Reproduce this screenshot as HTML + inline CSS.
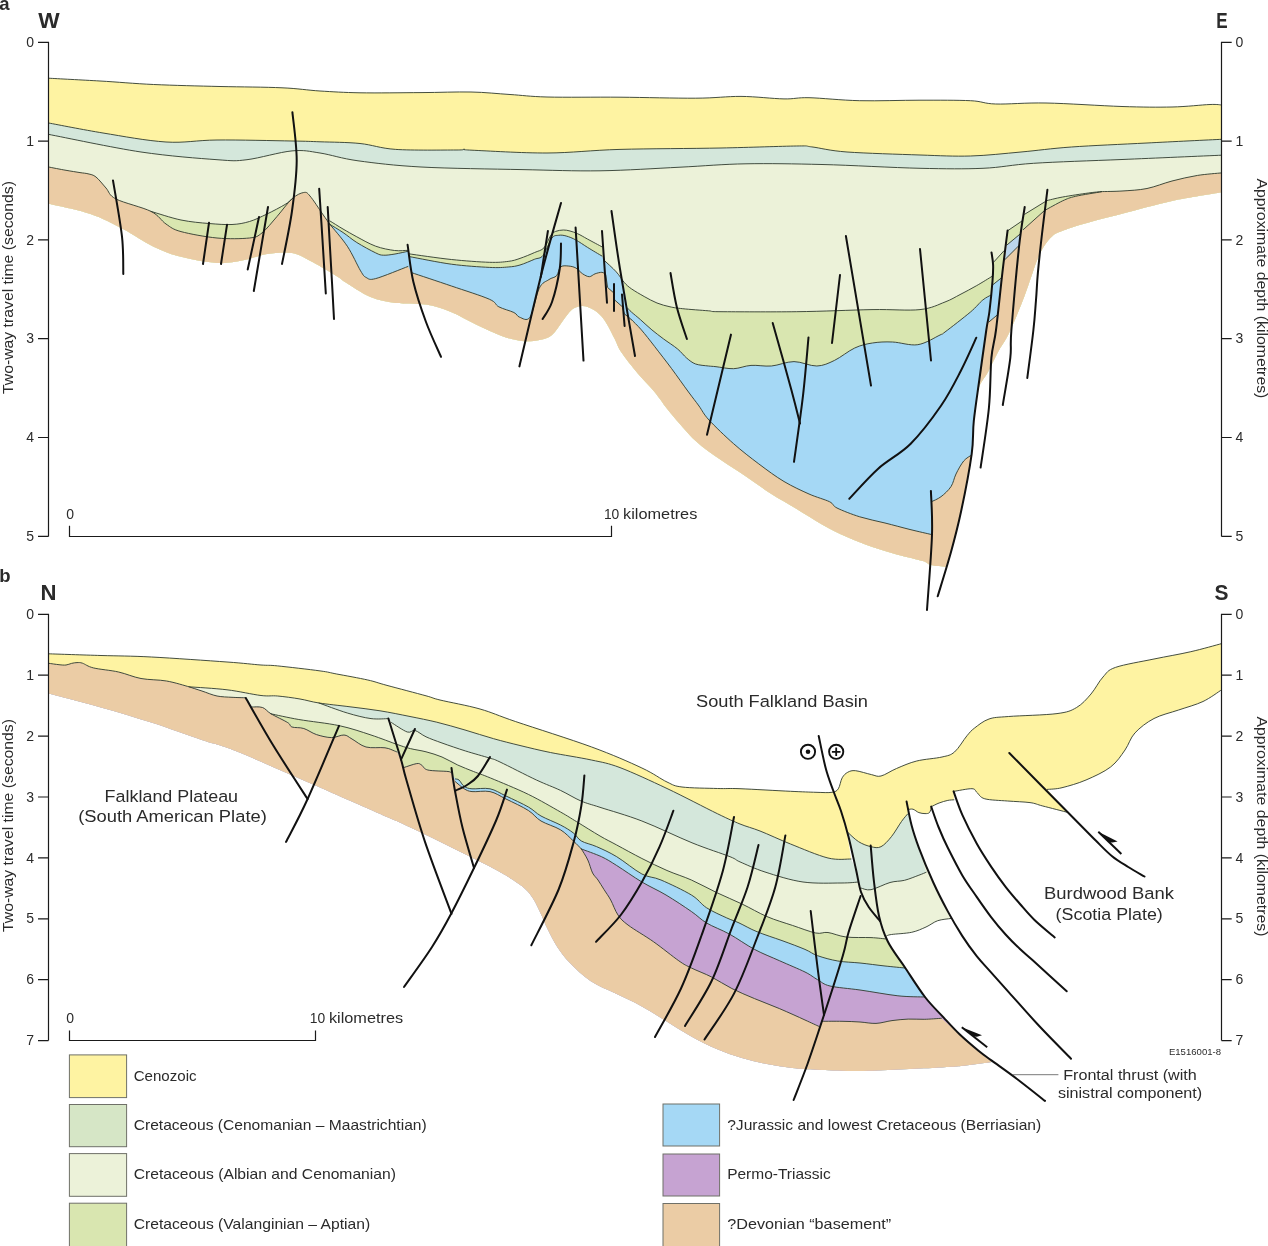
<!DOCTYPE html>
<html lang="en">
<head>
<meta charset="utf-8">
<title>Falkland Plateau seismic cross-sections</title>
<style>
html,body{margin:0;padding:0;background:#fff;}
body{width:1268px;height:1246px;overflow:hidden;}
svg{display:block;will-change:transform;}
</style>
</head>
<body>
<svg width="1268" height="1246" viewBox="0 0 1268 1246">
<rect width="1268" height="1246" fill="#fff"/>
<g id="panelA">
<path d="M48.7 78.2C57.2 78.7 82.5 80 100 81C117.5 82 133.6 83.6 153.6 84.5C173.6 85.4 198.6 86 220 86.5C241.4 87 265.3 87 282 87.8C298.7 88.5 307 90.2 320 91C333 91.8 343.2 92.5 360 92.8C376.8 93.1 402.5 92.7 421 92.6C439.5 92.5 456.2 91.7 471 92C485.8 92.3 497.3 93.7 510 94.5C522.7 95.3 528.7 96.5 547 97C565.3 97.5 595.2 97 620 97.2C644.8 97.4 675.5 98.3 695.7 98.2C715.9 98.1 726.3 96.3 741 96.4C755.7 96.5 772.7 98.7 784 98.9C795.3 99.1 796.4 97.4 809 97.7C821.6 98 841.2 100.3 859.7 100.7C878.2 101.1 901.5 100.2 920 100.2C938.5 100.2 957.9 100.1 970.5 100.7C983.1 101.3 983.1 103.6 995.7 104C1008.3 104.4 1025 102.6 1046 103C1067 103.4 1101 105.8 1122 106.5C1143 107.2 1157.3 107.3 1172 107C1186.7 106.7 1201.7 104.8 1210 104.5C1218.3 104.2 1219.7 104.9 1221.6 105L1221.6 192.3C1213.3 193.8 1188.6 197.4 1172 201C1155.4 204.6 1136.7 210 1122 213.8C1107.3 217.6 1094 220.9 1084 223.8C1074 226.7 1067.2 229 1062 231C1056.8 233 1055.6 233.3 1052.5 236C1049.4 238.7 1046 243.2 1043.5 247C1041 250.8 1039.3 254.7 1037.5 259C1035.7 263.3 1034.3 267.7 1032.6 272.7C1030.8 277.7 1028.9 283.6 1027 289C1025.1 294.4 1023.2 299.5 1021 305C1018.8 310.5 1016.4 316.5 1014 322C1011.6 327.5 1009.2 333 1006.5 338C1003.8 343 1001.1 346.3 998 352C994.9 357.7 991.3 365.8 988 372C984.7 378.2 980.7 381.2 978.3 389.4C975.9 397.6 974.9 410.1 973.8 421C972.7 431.9 972.6 446.7 971.7 455C970.9 463.3 970.5 461.5 968.7 471C966.9 480.5 964 498.3 961 511.8C958 525.3 953.5 542.8 951 552C948.5 561.2 946.8 564.3 946 566.8L946 566.8C943.5 566.5 934.8 566 930.9 565C927 564 928.3 562.7 922.8 561C917.2 559.3 906 557 897.6 554.7C889.2 552.4 880.8 550 872.4 547C864 544 855.4 540.8 847 537C838.6 533.2 830.4 529.1 822 524.4C813.6 519.7 805.1 514.1 796.7 509C788.3 503.9 779.9 499.4 771.4 494C762.9 488.6 754.4 482.2 746 476.5C737.6 470.8 729.4 465.9 721 460C712.6 454.1 704.1 448.8 695.7 441C687.3 433.2 677.3 421.1 670.5 413C663.7 404.9 660.2 398.8 654.8 392.2C649.4 385.6 643.6 380.4 638 373.7C632.4 367 624.9 357.7 621 351.8C617.1 345.9 617.2 343.7 614.4 338.3C611.6 332.9 607.6 324.4 604.2 319.7C600.8 315 597.6 312.3 594 310C590.4 307.7 586.2 306 582.5 305.9C578.8 305.8 575.4 306.9 572 309.6C568.6 312.3 565.3 317.8 562 322C558.7 326.2 555.7 332 552 335C548.3 338 544.6 339 539.6 340C534.6 341 528.3 341.7 522 341C515.7 340.3 509.3 338.7 501.7 336C494.1 333.3 484.9 328.8 476.5 324.8C468.1 320.8 459.4 315.4 451 312C442.6 308.6 435.2 306.1 426 304.6C416.8 303.1 404.9 304.3 395.7 303C386.4 301.7 378.9 300.5 370.5 297C362.1 293.5 350.4 285.3 345 282C339.6 278.7 343.4 280.3 338 277C332.6 273.7 320.2 266 312.5 262C304.8 258 299.6 254.3 292 253C284.4 251.7 275.3 252.7 267 254C258.7 255.3 250.3 259.1 242 260.6C233.7 262.1 227.2 263.6 217 263C206.8 262.4 191.6 259.5 181 256.8C170.4 254.1 163.3 251.3 153.6 246.7C143.9 242.1 133.5 234.4 123 229C112.5 223.6 102.9 218.2 90.5 214C78.1 209.8 55.7 205.5 48.7 203.8Z" fill="#FEF3A2"/>
<path d="M48.7 123C57.8 124.7 83.5 129.8 103 133C122.5 136.2 147 140.8 166 142C185 143.2 196 140.2 217 140C238 139.8 274.8 140.7 292 141C309.2 141.3 308.7 141.4 320 141.8C331.3 142.2 347.4 142.2 360 143.5C372.6 144.8 379.7 148.3 395.7 149.4C411.7 150.5 444.6 150 456 150C467.4 150 461.3 149.3 464 149.3C466.7 149.3 458.2 149.6 472 150.2C485.8 150.8 522.3 153.1 547 153C571.7 152.9 591 150.2 620 149.4C649 148.6 691.5 148.6 721 148C750.5 147.4 781.6 146.2 796.7 146C811.8 145.8 803.4 145.9 811.8 146.9C820.2 147.9 829 150.7 847 152C865 153.3 899.4 154.3 920 155C940.6 155.7 953.7 156.5 970.5 156C987.3 155.5 1004.2 153.5 1021 152C1037.8 150.5 1050.4 148.5 1071.4 147C1092.4 145.5 1122 144.3 1147 143C1172 141.7 1209.2 139.9 1221.6 139.3L1221.6 192.3C1213.3 193.8 1188.6 197.4 1172 201C1155.4 204.6 1136.7 210 1122 213.8C1107.3 217.6 1094 220.9 1084 223.8C1074 226.7 1067.2 229 1062 231C1056.8 233 1055.6 233.3 1052.5 236C1049.4 238.7 1046 243.2 1043.5 247C1041 250.8 1039.3 254.7 1037.5 259C1035.7 263.3 1034.3 267.7 1032.6 272.7C1030.8 277.7 1028.9 283.6 1027 289C1025.1 294.4 1023.2 299.5 1021 305C1018.8 310.5 1016.4 316.5 1014 322C1011.6 327.5 1009.2 333 1006.5 338C1003.8 343 1001.1 346.3 998 352C994.9 357.7 991.3 365.8 988 372C984.7 378.2 980.7 381.2 978.3 389.4C975.9 397.6 974.9 410.1 973.8 421C972.7 431.9 972.6 446.7 971.7 455C970.9 463.3 970.5 461.5 968.7 471C966.9 480.5 964 498.3 961 511.8C958 525.3 953.5 542.8 951 552C948.5 561.2 946.8 564.3 946 566.8L946 566.8C943.5 566.5 934.8 566 930.9 565C927 564 928.3 562.7 922.8 561C917.2 559.3 906 557 897.6 554.7C889.2 552.4 880.8 550 872.4 547C864 544 855.4 540.8 847 537C838.6 533.2 830.4 529.1 822 524.4C813.6 519.7 805.1 514.1 796.7 509C788.3 503.9 779.9 499.4 771.4 494C762.9 488.6 754.4 482.2 746 476.5C737.6 470.8 729.4 465.9 721 460C712.6 454.1 704.1 448.8 695.7 441C687.3 433.2 677.3 421.1 670.5 413C663.7 404.9 660.2 398.8 654.8 392.2C649.4 385.6 643.6 380.4 638 373.7C632.4 367 624.9 357.7 621 351.8C617.1 345.9 617.2 343.7 614.4 338.3C611.6 332.9 607.6 324.4 604.2 319.7C600.8 315 597.6 312.3 594 310C590.4 307.7 586.2 306 582.5 305.9C578.8 305.8 575.4 306.9 572 309.6C568.6 312.3 565.3 317.8 562 322C558.7 326.2 555.7 332 552 335C548.3 338 544.6 339 539.6 340C534.6 341 528.3 341.7 522 341C515.7 340.3 509.3 338.7 501.7 336C494.1 333.3 484.9 328.8 476.5 324.8C468.1 320.8 459.4 315.4 451 312C442.6 308.6 435.2 306.1 426 304.6C416.8 303.1 404.9 304.3 395.7 303C386.4 301.7 378.9 300.5 370.5 297C362.1 293.5 350.4 285.3 345 282C339.6 278.7 343.4 280.3 338 277C332.6 273.7 320.2 266 312.5 262C304.8 258 299.6 254.3 292 253C284.4 251.7 275.3 252.7 267 254C258.7 255.3 250.3 259.1 242 260.6C233.7 262.1 227.2 263.6 217 263C206.8 262.4 191.6 259.5 181 256.8C170.4 254.1 163.3 251.3 153.6 246.7C143.9 242.1 133.5 234.4 123 229C112.5 223.6 102.9 218.2 90.5 214C78.1 209.8 55.7 205.5 48.7 203.8Z" fill="#D4E7DB"/>
<path d="M48.7 134.4C64.1 137.3 113 147.8 141 152C169.1 156.2 199.3 158.4 217 159.7C234.7 161 234.5 161.2 247 159.7C259.5 158.2 279.8 152 292 150.9C304.2 149.8 309 151.3 320 153C331 154.7 341.2 158.5 358 160.8C374.8 163.1 393.7 165.5 421 167C448.3 168.5 492.2 169 522 169.6C551.8 170.2 573.7 171.2 600 170.8C626.3 170.4 655.7 168.4 680 167.2C704.3 166 722.3 164.2 746 163.8C769.7 163.4 793 163.8 822 164.5C851 165.2 893.2 167.7 920 168.3C946.8 168.9 964.1 169.1 983 168.3C1001.9 167.5 1010.4 164.8 1033.6 163.3C1056.8 161.8 1090.7 160.8 1122 159.5C1153.3 158.2 1205 155.9 1221.6 155.2L1221.6 192.3C1213.3 193.8 1188.6 197.4 1172 201C1155.4 204.6 1136.7 210 1122 213.8C1107.3 217.6 1094 220.9 1084 223.8C1074 226.7 1067.2 229 1062 231C1056.8 233 1055.6 233.3 1052.5 236C1049.4 238.7 1046 243.2 1043.5 247C1041 250.8 1039.3 254.7 1037.5 259C1035.7 263.3 1034.3 267.7 1032.6 272.7C1030.8 277.7 1028.9 283.6 1027 289C1025.1 294.4 1023.2 299.5 1021 305C1018.8 310.5 1016.4 316.5 1014 322C1011.6 327.5 1009.2 333 1006.5 338C1003.8 343 1001.1 346.3 998 352C994.9 357.7 991.3 365.8 988 372C984.7 378.2 980.7 381.2 978.3 389.4C975.9 397.6 974.9 410.1 973.8 421C972.7 431.9 972.6 446.7 971.7 455C970.9 463.3 970.5 461.5 968.7 471C966.9 480.5 964 498.3 961 511.8C958 525.3 953.5 542.8 951 552C948.5 561.2 946.8 564.3 946 566.8L946 566.8C943.5 566.5 934.8 566 930.9 565C927 564 928.3 562.7 922.8 561C917.2 559.3 906 557 897.6 554.7C889.2 552.4 880.8 550 872.4 547C864 544 855.4 540.8 847 537C838.6 533.2 830.4 529.1 822 524.4C813.6 519.7 805.1 514.1 796.7 509C788.3 503.9 779.9 499.4 771.4 494C762.9 488.6 754.4 482.2 746 476.5C737.6 470.8 729.4 465.9 721 460C712.6 454.1 704.1 448.8 695.7 441C687.3 433.2 677.3 421.1 670.5 413C663.7 404.9 660.2 398.8 654.8 392.2C649.4 385.6 643.6 380.4 638 373.7C632.4 367 624.9 357.7 621 351.8C617.1 345.9 617.2 343.7 614.4 338.3C611.6 332.9 607.6 324.4 604.2 319.7C600.8 315 597.6 312.3 594 310C590.4 307.7 586.2 306 582.5 305.9C578.8 305.8 575.4 306.9 572 309.6C568.6 312.3 565.3 317.8 562 322C558.7 326.2 555.7 332 552 335C548.3 338 544.6 339 539.6 340C534.6 341 528.3 341.7 522 341C515.7 340.3 509.3 338.7 501.7 336C494.1 333.3 484.9 328.8 476.5 324.8C468.1 320.8 459.4 315.4 451 312C442.6 308.6 435.2 306.1 426 304.6C416.8 303.1 404.9 304.3 395.7 303C386.4 301.7 378.9 300.5 370.5 297C362.1 293.5 350.4 285.3 345 282C339.6 278.7 343.4 280.3 338 277C332.6 273.7 320.2 266 312.5 262C304.8 258 299.6 254.3 292 253C284.4 251.7 275.3 252.7 267 254C258.7 255.3 250.3 259.1 242 260.6C233.7 262.1 227.2 263.6 217 263C206.8 262.4 191.6 259.5 181 256.8C170.4 254.1 163.3 251.3 153.6 246.7C143.9 242.1 133.5 234.4 123 229C112.5 223.6 102.9 218.2 90.5 214C78.1 209.8 55.7 205.5 48.7 203.8Z" fill="#ECF2D9"/>
<path d="M48.7 167C51.6 167.6 60.8 169.4 66 170.3C71.2 171.2 76.3 172 80 172.6C83.7 173.2 85.3 173.1 88 173.8C90.7 174.5 93 174.6 96 177C99 179.4 102.7 184.3 106 188C109.3 191.7 108.5 195.1 116 199C123.5 202.9 145.2 209.3 151 211.4L151 211.4C156 212.8 171.3 218 181 220C190.7 222 200.5 222.8 209 223.5C217.5 224.2 225.2 224.8 232 224.5C238.8 224.2 243.7 223.2 249.5 221.5C255.3 219.8 261.1 216.8 267 214C272.9 211.2 280.8 207 285 204.5C289.2 202 290.8 199.8 292 198.8L292 198.8C293.9 197.8 300.7 193 303.7 192.5C306.7 192 306.9 192.4 310 196C313.1 199.6 319.3 209.2 322.6 214C325.9 218.8 328.8 222.8 330 224.5L330 221C332.2 222.3 338.5 226.4 343 229C347.5 231.6 351.4 233.9 356.8 236.8C362.2 239.7 369.4 243.9 375.7 246.2C382 248.5 389.2 249.8 394.6 250.5C400 251.2 405.7 250.3 407.9 250.3L408.8 253.8C415.9 254.8 438 258.1 451.4 259.5C464.8 260.9 479.8 262 489.3 262.3C498.8 262.6 503.1 262 508.2 261.4C513.3 260.8 515.6 259.9 520 258.4C524.4 256.9 530.4 254.4 534.4 252.6C538.4 250.8 541.3 250.7 544 247.8C546.7 244.9 548.9 238 550.8 235.3C552.7 232.6 553.5 232.3 555.6 231.4C557.7 230.5 560.9 230.1 563.3 230C565.7 229.9 567.6 230.4 570 231C572.4 231.6 574.9 232.5 577.8 233.8C580.7 235.1 583.4 236.8 587.4 239C591.4 241.2 599.5 245.5 601.9 246.8L603.8 260C605.9 262 612.9 268.1 616.3 271.9C619.7 275.6 621.8 279.7 624.3 282.5C626.8 285.3 628.1 286.5 631.4 288.8C634.7 291.1 639.9 294.1 644.2 296.5C648.5 298.9 652.7 301.3 657 303C661.3 304.7 665.7 305.9 670 306.8C674.3 307.8 676.3 308 682.7 308.7C689.1 309.4 702 310.3 708.4 310.8C714.8 311.3 706.3 311.6 721 311.7C735.7 311.8 771.5 312 796.7 311.7C821.9 311.4 851.5 310 872 309.6C892.5 309.2 907.8 310.9 920 309.6C932.2 308.3 938.3 304.5 945 302C951.7 299.5 954.7 297.3 960 294.6C965.3 291.9 971.4 288.6 976.7 285.6C982 282.6 989.3 278 991.8 276.5L991.8 276.5L993.4 262.4L1004 250.8L1007.9 230.6L1022 221L1024.6 214.3L1045.4 201.5L1046 200.8L1062.7 197L1088.4 193L1101.3 191.6L1101.3 191.6C1104.8 191.5 1114.4 191.5 1122 191C1129.6 190.5 1138.7 190.2 1147 188.5C1155.3 186.8 1163.6 183.2 1172 181C1180.4 178.8 1189.3 176.8 1197.6 175.4C1205.9 174.1 1217.6 173.3 1221.6 172.9L1221.6 192.3C1213.3 193.8 1188.6 197.4 1172 201C1155.4 204.6 1136.7 210 1122 213.8C1107.3 217.6 1094 220.9 1084 223.8C1074 226.7 1067.2 229 1062 231C1056.8 233 1055.6 233.3 1052.5 236C1049.4 238.7 1046 243.2 1043.5 247C1041 250.8 1039.3 254.7 1037.5 259C1035.7 263.3 1034.3 267.7 1032.6 272.7C1030.8 277.7 1028.9 283.6 1027 289C1025.1 294.4 1023.2 299.5 1021 305C1018.8 310.5 1016.4 316.5 1014 322C1011.6 327.5 1009.2 333 1006.5 338C1003.8 343 1001.1 346.3 998 352C994.9 357.7 991.3 365.8 988 372C984.7 378.2 980.7 381.2 978.3 389.4C975.9 397.6 974.9 410.1 973.8 421C972.7 431.9 972.6 446.7 971.7 455C970.9 463.3 970.5 461.5 968.7 471C966.9 480.5 964 498.3 961 511.8C958 525.3 953.5 542.8 951 552C948.5 561.2 946.8 564.3 946 566.8L946 566.8C943.5 566.5 934.8 566 930.9 565C927 564 928.3 562.7 922.8 561C917.2 559.3 906 557 897.6 554.7C889.2 552.4 880.8 550 872.4 547C864 544 855.4 540.8 847 537C838.6 533.2 830.4 529.1 822 524.4C813.6 519.7 805.1 514.1 796.7 509C788.3 503.9 779.9 499.4 771.4 494C762.9 488.6 754.4 482.2 746 476.5C737.6 470.8 729.4 465.9 721 460C712.6 454.1 704.1 448.8 695.7 441C687.3 433.2 677.3 421.1 670.5 413C663.7 404.9 660.2 398.8 654.8 392.2C649.4 385.6 643.6 380.4 638 373.7C632.4 367 624.9 357.7 621 351.8C617.1 345.9 617.2 343.7 614.4 338.3C611.6 332.9 607.6 324.4 604.2 319.7C600.8 315 597.6 312.3 594 310C590.4 307.7 586.2 306 582.5 305.9C578.8 305.8 575.4 306.9 572 309.6C568.6 312.3 565.3 317.8 562 322C558.7 326.2 555.7 332 552 335C548.3 338 544.6 339 539.6 340C534.6 341 528.3 341.7 522 341C515.7 340.3 509.3 338.7 501.7 336C494.1 333.3 484.9 328.8 476.5 324.8C468.1 320.8 459.4 315.4 451 312C442.6 308.6 435.2 306.1 426 304.6C416.8 303.1 404.9 304.3 395.7 303C386.4 301.7 378.9 300.5 370.5 297C362.1 293.5 350.4 285.3 345 282C339.6 278.7 343.4 280.3 338 277C332.6 273.7 320.2 266 312.5 262C304.8 258 299.6 254.3 292 253C284.4 251.7 275.3 252.7 267 254C258.7 255.3 250.3 259.1 242 260.6C233.7 262.1 227.2 263.6 217 263C206.8 262.4 191.6 259.5 181 256.8C170.4 254.1 163.3 251.3 153.6 246.7C143.9 242.1 133.5 234.4 123 229C112.5 223.6 102.9 218.2 90.5 214C78.1 209.8 55.7 205.5 48.7 203.8Z" fill="#D9E6B0"/>
<path d="M48.7 167C51.6 167.6 60.8 169.4 66 170.3C71.2 171.2 76.3 172 80 172.6C83.7 173.2 85.3 173.1 88 173.8C90.7 174.5 93 174.6 96 177C99 179.4 102.7 184.3 106 188C109.3 191.7 108.5 195.1 116 199C123.5 202.9 142.7 207.2 151 211.4C159.3 215.6 161 220.6 166 224C171 227.4 172.5 229.3 181 231.6C189.5 233.9 205.6 236.9 217 238C228.4 239.1 242 238.8 249.5 238C257 237.2 257.4 236.5 262 232.9C266.6 229.3 272 222.2 277 216.5C282 210.8 287.6 202.8 292 198.8C296.4 194.8 300.7 193 303.7 192.5C306.7 192 306.9 192.4 310 196C313.1 199.6 319.3 209.2 322.6 214C325.9 218.8 328.8 222.8 330 224.5L330 224.5C332.2 225.8 338.5 229.5 343 232.5C347.5 235.5 351.4 239.1 356.8 242.5C362.2 245.9 371.3 250.8 375.7 252.9C380.1 255 380.1 255 383.3 255.2C386.5 255.4 390.9 254.7 395 254C399.1 253.3 405.8 251.8 407.9 251.3L409.8 256.7C416.7 257.9 438.1 262.4 451.4 264.2C464.6 266 479.8 266.9 489.3 267.4C498.8 267.9 503.1 267.4 508.2 267C513.3 266.6 515.6 266.3 520 265C524.4 263.7 530.6 260.9 534.4 259.3C538.2 257.7 540.1 259 543 255.5C545.9 252 549.2 241.6 551.8 238.2C554.4 234.8 556.1 235.7 558.5 235.3C560.9 234.9 563.3 235.2 566.2 236C569.1 236.8 572.4 238.1 575.9 240C579.4 241.9 583.1 244.6 587.4 247.3C591.7 250 599.5 254.6 601.9 256L603.8 260C605.9 262 613 268.1 616.3 271.9C619.6 275.6 622.3 280.7 623.5 282.5L627.5 308C628.1 308.7 629.2 310.1 631.4 312C633.5 313.9 637 316.6 640.4 319.6C643.8 322.6 648 326.7 651.9 329.9C655.8 333.1 659.2 335.7 663.5 338.9C667.8 342.1 673.8 345.8 677.6 349C681.5 352.2 683.6 355.5 686.6 358C689.6 360.5 692 362.7 695.6 364C699.2 365.3 705 365.6 708.4 366C711.8 366.4 711.8 366.2 716 366.7C720.2 367.1 727.8 368.9 733.6 368.7C739.4 368.5 744.7 365.8 751 365.4C757.3 364.9 764.2 366.6 771.4 366C778.6 365.4 786.4 361.6 794 361.6C801.6 361.6 810 366.2 816.8 366C823.5 365.8 828.2 363.4 834.5 360.4C840.8 357.4 848.4 350.9 854.7 348C861 345.1 866.1 344 872.4 343C878.7 342 884.9 341.7 892.5 342C900.1 342.3 909.9 345.9 917.8 344.7C925.7 343.5 935.5 337.1 940 335C944.5 332.9 939.9 335.8 945 332C950.1 328.2 964.2 317.3 970.5 312C976.8 306.7 979.3 302.8 982.8 300C986.2 297.2 989.8 295.8 991.2 295L991.2 295L992.8 284.8L1000.8 278.4L1006.9 245L1020.4 233.8L1023.3 229.6L1044 211L1044.8 210.4L1062.7 200.8L1075.6 196.3L1101.3 191.8L1101.3 191.6C1104.8 191.5 1114.4 191.5 1122 191C1129.6 190.5 1138.7 190.2 1147 188.5C1155.3 186.8 1163.6 183.2 1172 181C1180.4 178.8 1189.3 176.8 1197.6 175.4C1205.9 174.1 1217.6 173.3 1221.6 172.9L1221.6 192.3C1213.3 193.8 1188.6 197.4 1172 201C1155.4 204.6 1136.7 210 1122 213.8C1107.3 217.6 1094 220.9 1084 223.8C1074 226.7 1067.2 229 1062 231C1056.8 233 1055.6 233.3 1052.5 236C1049.4 238.7 1046 243.2 1043.5 247C1041 250.8 1039.3 254.7 1037.5 259C1035.7 263.3 1034.3 267.7 1032.6 272.7C1030.8 277.7 1028.9 283.6 1027 289C1025.1 294.4 1023.2 299.5 1021 305C1018.8 310.5 1016.4 316.5 1014 322C1011.6 327.5 1009.2 333 1006.5 338C1003.8 343 1001.1 346.3 998 352C994.9 357.7 991.3 365.8 988 372C984.7 378.2 980.7 381.2 978.3 389.4C975.9 397.6 974.9 410.1 973.8 421C972.7 431.9 972.6 446.7 971.7 455C970.9 463.3 970.5 461.5 968.7 471C966.9 480.5 964 498.3 961 511.8C958 525.3 953.5 542.8 951 552C948.5 561.2 946.8 564.3 946 566.8L946 566.8C943.5 566.5 934.8 566 930.9 565C927 564 928.3 562.7 922.8 561C917.2 559.3 906 557 897.6 554.7C889.2 552.4 880.8 550 872.4 547C864 544 855.4 540.8 847 537C838.6 533.2 830.4 529.1 822 524.4C813.6 519.7 805.1 514.1 796.7 509C788.3 503.9 779.9 499.4 771.4 494C762.9 488.6 754.4 482.2 746 476.5C737.6 470.8 729.4 465.9 721 460C712.6 454.1 704.1 448.8 695.7 441C687.3 433.2 677.3 421.1 670.5 413C663.7 404.9 660.2 398.8 654.8 392.2C649.4 385.6 643.6 380.4 638 373.7C632.4 367 624.9 357.7 621 351.8C617.1 345.9 617.2 343.7 614.4 338.3C611.6 332.9 607.6 324.4 604.2 319.7C600.8 315 597.6 312.3 594 310C590.4 307.7 586.2 306 582.5 305.9C578.8 305.8 575.4 306.9 572 309.6C568.6 312.3 565.3 317.8 562 322C558.7 326.2 555.7 332 552 335C548.3 338 544.6 339 539.6 340C534.6 341 528.3 341.7 522 341C515.7 340.3 509.3 338.7 501.7 336C494.1 333.3 484.9 328.8 476.5 324.8C468.1 320.8 459.4 315.4 451 312C442.6 308.6 435.2 306.1 426 304.6C416.8 303.1 404.9 304.3 395.7 303C386.4 301.7 378.9 300.5 370.5 297C362.1 293.5 350.4 285.3 345 282C339.6 278.7 343.4 280.3 338 277C332.6 273.7 320.2 266 312.5 262C304.8 258 299.6 254.3 292 253C284.4 251.7 275.3 252.7 267 254C258.7 255.3 250.3 259.1 242 260.6C233.7 262.1 227.2 263.6 217 263C206.8 262.4 191.6 259.5 181 256.8C170.4 254.1 163.3 251.3 153.6 246.7C143.9 242.1 133.5 234.4 123 229C112.5 223.6 102.9 218.2 90.5 214C78.1 209.8 55.7 205.5 48.7 203.8Z" fill="#EBCCA5"/>
<path d="M330 224.5C332.2 225.8 338.5 229.5 343 232.5C347.5 235.5 351.4 239.1 356.8 242.5C362.2 245.9 371.3 250.8 375.7 252.9C380.1 255 380.1 255 383.3 255.2C386.5 255.4 390.9 254.7 395 254C399.1 253.3 405.8 251.8 407.9 251.3L409.8 256.7C416.7 257.9 438.1 262.4 451.4 264.2C464.6 266 479.8 266.9 489.3 267.4C498.8 267.9 503.1 267.4 508.2 267C513.3 266.6 515.6 266.3 520 265C524.4 263.7 530.6 260.9 534.4 259.3C538.2 257.7 540.1 259 543 255.5C545.9 252 549.2 241.6 551.8 238.2C554.4 234.8 556.1 235.7 558.5 235.3C560.9 234.9 563.3 235.2 566.2 236C569.1 236.8 572.4 238.1 575.9 240C579.4 241.9 583.1 244.6 587.4 247.3C591.7 250 599.5 254.6 601.9 256L603.8 260C605.9 262 613 268.1 616.3 271.9C619.6 275.6 622.3 280.7 623.5 282.5L627.5 308C628.1 308.7 629.2 310.1 631.4 312C633.5 313.9 637 316.6 640.4 319.6C643.8 322.6 648 326.7 651.9 329.9C655.8 333.1 659.2 335.7 663.5 338.9C667.8 342.1 673.8 345.8 677.6 349C681.5 352.2 683.6 355.5 686.6 358C689.6 360.5 692 362.7 695.6 364C699.2 365.3 705 365.6 708.4 366C711.8 366.4 711.8 366.2 716 366.7C720.2 367.1 727.8 368.9 733.6 368.7C739.4 368.5 744.7 365.8 751 365.4C757.3 364.9 764.2 366.6 771.4 366C778.6 365.4 786.4 361.6 794 361.6C801.6 361.6 810 366.2 816.8 366C823.5 365.8 828.2 363.4 834.5 360.4C840.8 357.4 848.4 350.9 854.7 348C861 345.1 866.1 344 872.4 343C878.7 342 884.9 341.7 892.5 342C900.1 342.3 909.9 345.9 917.8 344.7C925.7 343.5 935.5 337.1 940 335C944.5 332.9 939.9 335.8 945 332C950.1 328.2 964.2 317.3 970.5 312C976.8 306.7 979.3 302.8 982.8 300C986.2 297.2 989.8 295.8 991.2 295L991.2 295C990.9 297.7 990.3 305.2 989.5 311C988.7 316.8 988 318.5 986.3 330C984.6 341.5 981.4 364.8 979.3 380C977.2 395.2 975.1 408.5 973.8 421C972.5 433.5 972.1 449.3 971.7 455L971.7 455C970.4 456 966.3 457.8 963.7 461C961.1 464.2 958.1 469.7 956 474C953.9 478.3 953.5 482.8 951 486.6C948.5 490.4 944.3 494.2 941 496.7C937.7 499.2 933 500.9 931.4 501.7L931.4 534.5L931.4 534.5C927.8 533.7 917.7 531.4 910 529.5C902.3 527.6 893.4 525.1 885 523C876.6 520.9 867.7 519.3 859.7 516.8C851.7 514.3 842 510.5 837 508C832 505.5 834.2 504 829.5 501.7C824.8 499.4 816.6 497.4 809 494C801.4 490.6 792.4 486.5 784 481.5C775.6 476.5 767.2 470.2 758.8 463.9C750.4 457.6 741.9 451 733.6 443.7C725.3 436.4 714.8 426.3 709 420C703.2 413.7 702.4 410.7 699 406C695.6 401.3 693.1 398.2 688.5 392C683.9 385.8 677.2 376.2 671.6 368.6C666 361.1 659.8 353.2 654.8 346.7C649.8 340.2 645.2 334.3 641.3 329.8C637.4 325.3 633 321.3 631.4 319.6L631.4 319.6L624.3 313.8L622.4 306.8L614.7 300L613.4 292.6L607.6 287.5L605.7 274.7L605.7 274.7C605.1 274.3 603.7 272.4 601.9 272.3C600.1 272.2 597.2 273.1 595.1 273.8C593 274.5 591.4 276.7 589.3 276.7C587.2 276.7 584.8 275.2 582.6 273.8C580.4 272.4 578.3 269.3 575.9 268C573.5 266.7 570.8 266.2 568.2 266C565.6 265.8 562.4 265.4 560.5 267C558.6 268.6 558.5 273.6 556.6 275.7C554.7 277.8 551.8 277.5 548.9 279.6C546 281.7 542.4 281.9 539.3 288.2C536.1 294.5 533.3 312.4 530 317.2C526.7 322 522.3 318 519.6 317.2C516.9 316.4 517.4 314.2 513.9 312.5C510.4 310.8 502.9 309 498.8 306.8C494.7 304.6 497.2 302.7 489.3 299.2C481.4 295.7 464.3 290.4 451.4 286C438.5 281.6 418.3 274.9 411.7 272.7L407.9 266.5C402.5 268.5 382.6 276.8 375.7 278.6C368.8 280.4 368.7 278.8 366.2 277.5C363.7 276.2 363.8 276.1 360.6 270.9C357.5 265.7 352.4 253.9 347.3 246.2C342.2 238.5 332.9 228.1 330 224.5Z" fill="#A5D8F5"/>
<path d="M992.8 284.8L1000.8 278.4L997.2 315L988.9 322Z" fill="#A5D8F5"/>
<path d="M1006.9 245L1020.4 233.8L1018.8 245.7L1004.7 259.8Z" fill="#BCD6EC"/>
<path d="M48.7 78.2C57.2 78.7 82.5 80 100 81C117.5 82 133.6 83.6 153.6 84.5C173.6 85.4 198.6 86 220 86.5C241.4 87 265.3 87 282 87.8C298.7 88.5 307 90.2 320 91C333 91.8 343.2 92.5 360 92.8C376.8 93.1 402.5 92.7 421 92.6C439.5 92.5 456.2 91.7 471 92C485.8 92.3 497.3 93.7 510 94.5C522.7 95.3 528.7 96.5 547 97C565.3 97.5 595.2 97 620 97.2C644.8 97.4 675.5 98.3 695.7 98.2C715.9 98.1 726.3 96.3 741 96.4C755.7 96.5 772.7 98.7 784 98.9C795.3 99.1 796.4 97.4 809 97.7C821.6 98 841.2 100.3 859.7 100.7C878.2 101.1 901.5 100.2 920 100.2C938.5 100.2 957.9 100.1 970.5 100.7C983.1 101.3 983.1 103.6 995.7 104C1008.3 104.4 1025 102.6 1046 103C1067 103.4 1101 105.8 1122 106.5C1143 107.2 1157.3 107.3 1172 107C1186.7 106.7 1201.7 104.8 1210 104.5C1218.3 104.2 1219.7 104.9 1221.6 105" fill="none" stroke="#2f3a2e" stroke-width="0.9" stroke-linecap="round" stroke-linejoin="round"/>
<path d="M48.7 123C57.8 124.7 83.5 129.8 103 133C122.5 136.2 147 140.8 166 142C185 143.2 196 140.2 217 140C238 139.8 274.8 140.7 292 141C309.2 141.3 308.7 141.4 320 141.8C331.3 142.2 347.4 142.2 360 143.5C372.6 144.8 379.7 148.3 395.7 149.4C411.7 150.5 444.6 150 456 150C467.4 150 461.3 149.3 464 149.3C466.7 149.3 458.2 149.6 472 150.2C485.8 150.8 522.3 153.1 547 153C571.7 152.9 591 150.2 620 149.4C649 148.6 691.5 148.6 721 148C750.5 147.4 781.6 146.2 796.7 146C811.8 145.8 803.4 145.9 811.8 146.9C820.2 147.9 829 150.7 847 152C865 153.3 899.4 154.3 920 155C940.6 155.7 953.7 156.5 970.5 156C987.3 155.5 1004.2 153.5 1021 152C1037.8 150.5 1050.4 148.5 1071.4 147C1092.4 145.5 1122 144.3 1147 143C1172 141.7 1209.2 139.9 1221.6 139.3" fill="none" stroke="#2f3a2e" stroke-width="0.9" stroke-linecap="round" stroke-linejoin="round"/>
<path d="M48.7 134.4C64.1 137.3 113 147.8 141 152C169.1 156.2 199.3 158.4 217 159.7C234.7 161 234.5 161.2 247 159.7C259.5 158.2 279.8 152 292 150.9C304.2 149.8 309 151.3 320 153C331 154.7 341.2 158.5 358 160.8C374.8 163.1 393.7 165.5 421 167C448.3 168.5 492.2 169 522 169.6C551.8 170.2 573.7 171.2 600 170.8C626.3 170.4 655.7 168.4 680 167.2C704.3 166 722.3 164.2 746 163.8C769.7 163.4 793 163.8 822 164.5C851 165.2 893.2 167.7 920 168.3C946.8 168.9 964.1 169.1 983 168.3C1001.9 167.5 1010.4 164.8 1033.6 163.3C1056.8 161.8 1090.7 160.8 1122 159.5C1153.3 158.2 1205 155.9 1221.6 155.2" fill="none" stroke="#2f3a2e" stroke-width="0.9" stroke-linecap="round" stroke-linejoin="round"/>
<path d="M48.7 167C51.6 167.6 60.8 169.4 66 170.3C71.2 171.2 76.3 172 80 172.6C83.7 173.2 85.3 173.1 88 173.8C90.7 174.5 93 174.6 96 177C99 179.4 102.7 184.3 106 188C109.3 191.7 108.5 195.1 116 199C123.5 202.9 142.7 207.2 151 211.4C159.3 215.6 161 220.6 166 224C171 227.4 172.5 229.3 181 231.6C189.5 233.9 205.6 236.9 217 238C228.4 239.1 242 238.8 249.5 238C257 237.2 257.4 236.5 262 232.9C266.6 229.3 272 222.2 277 216.5C282 210.8 287.6 202.8 292 198.8C296.4 194.8 300.7 193 303.7 192.5C306.7 192 306.9 192.4 310 196C313.1 199.6 319.3 209.2 322.6 214C325.9 218.8 328.8 222.8 330 224.5" fill="none" stroke="#2f3a2e" stroke-width="0.9" stroke-linecap="round" stroke-linejoin="round"/>
<path d="M151 211.4C156 212.8 171.3 218 181 220C190.7 222 200.5 222.8 209 223.5C217.5 224.2 225.2 224.8 232 224.5C238.8 224.2 243.7 223.2 249.5 221.5C255.3 219.8 261.1 216.8 267 214C272.9 211.2 280.8 207 285 204.5C289.2 202 290.8 199.8 292 198.8" fill="none" stroke="#2f3a2e" stroke-width="0.9" stroke-linecap="round" stroke-linejoin="round"/>
<path d="M330 221C332.2 222.3 338.5 226.4 343 229C347.5 231.6 351.4 233.9 356.8 236.8C362.2 239.7 369.4 243.9 375.7 246.2C382 248.5 389.2 249.8 394.6 250.5C400 251.2 405.7 250.3 407.9 250.3" fill="none" stroke="#2f3a2e" stroke-width="0.9" stroke-linecap="round" stroke-linejoin="round"/>
<path d="M408.8 253.8C415.9 254.8 438 258.1 451.4 259.5C464.8 260.9 479.8 262 489.3 262.3C498.8 262.6 503.1 262 508.2 261.4C513.3 260.8 515.6 259.9 520 258.4C524.4 256.9 530.4 254.4 534.4 252.6C538.4 250.8 541.3 250.7 544 247.8C546.7 244.9 548.9 238 550.8 235.3C552.7 232.6 553.5 232.3 555.6 231.4C557.7 230.5 560.9 230.1 563.3 230C565.7 229.9 567.6 230.4 570 231C572.4 231.6 574.9 232.5 577.8 233.8C580.7 235.1 583.4 236.8 587.4 239C591.4 241.2 599.5 245.5 601.9 246.8" fill="none" stroke="#2f3a2e" stroke-width="0.9" stroke-linecap="round" stroke-linejoin="round"/>
<path d="M603.8 260C605.9 262 612.9 268.1 616.3 271.9C619.7 275.6 621.8 279.7 624.3 282.5C626.8 285.3 628.1 286.5 631.4 288.8C634.7 291.1 639.9 294.1 644.2 296.5C648.5 298.9 652.7 301.3 657 303C661.3 304.7 665.7 305.9 670 306.8C674.3 307.8 676.3 308 682.7 308.7C689.1 309.4 702 310.3 708.4 310.8C714.8 311.3 706.3 311.6 721 311.7C735.7 311.8 771.5 312 796.7 311.7C821.9 311.4 851.5 310 872 309.6C892.5 309.2 907.8 310.9 920 309.6C932.2 308.3 938.3 304.5 945 302C951.7 299.5 954.7 297.3 960 294.6C965.3 291.9 971.4 288.6 976.7 285.6C982 282.6 989.3 278 991.8 276.5" fill="none" stroke="#2f3a2e" stroke-width="0.9" stroke-linecap="round" stroke-linejoin="round"/>
<path d="M330 224.5C332.2 225.8 338.5 229.5 343 232.5C347.5 235.5 351.4 239.1 356.8 242.5C362.2 245.9 371.3 250.8 375.7 252.9C380.1 255 380.1 255 383.3 255.2C386.5 255.4 390.9 254.7 395 254C399.1 253.3 405.8 251.8 407.9 251.3" fill="none" stroke="#2f3a2e" stroke-width="0.9" stroke-linecap="round" stroke-linejoin="round"/>
<path d="M409.8 256.7C416.7 257.9 438.1 262.4 451.4 264.2C464.6 266 479.8 266.9 489.3 267.4C498.8 267.9 503.1 267.4 508.2 267C513.3 266.6 515.6 266.3 520 265C524.4 263.7 530.6 260.9 534.4 259.3C538.2 257.7 540.1 259 543 255.5C545.9 252 549.2 241.6 551.8 238.2C554.4 234.8 556.1 235.7 558.5 235.3C560.9 234.9 563.3 235.2 566.2 236C569.1 236.8 572.4 238.1 575.9 240C579.4 241.9 583.1 244.6 587.4 247.3C591.7 250 599.5 254.6 601.9 256" fill="none" stroke="#2f3a2e" stroke-width="0.9" stroke-linecap="round" stroke-linejoin="round"/>
<path d="M627.5 308C628.1 308.7 629.2 310.1 631.4 312C633.5 313.9 637 316.6 640.4 319.6C643.8 322.6 648 326.7 651.9 329.9C655.8 333.1 659.2 335.7 663.5 338.9C667.8 342.1 673.8 345.8 677.6 349C681.5 352.2 683.6 355.5 686.6 358C689.6 360.5 692 362.7 695.6 364C699.2 365.3 705 365.6 708.4 366C711.8 366.4 711.8 366.2 716 366.7C720.2 367.1 727.8 368.9 733.6 368.7C739.4 368.5 744.7 365.8 751 365.4C757.3 364.9 764.2 366.6 771.4 366C778.6 365.4 786.4 361.6 794 361.6C801.6 361.6 810 366.2 816.8 366C823.5 365.8 828.2 363.4 834.5 360.4C840.8 357.4 848.4 350.9 854.7 348C861 345.1 866.1 344 872.4 343C878.7 342 884.9 341.7 892.5 342C900.1 342.3 909.9 345.9 917.8 344.7C925.7 343.5 935.5 337.1 940 335C944.5 332.9 939.9 335.8 945 332C950.1 328.2 964.2 317.3 970.5 312C976.8 306.7 979.3 302.8 982.8 300C986.2 297.2 989.8 295.8 991.2 295" fill="none" stroke="#2f3a2e" stroke-width="0.9" stroke-linecap="round" stroke-linejoin="round"/>
<path d="M330 224.5C332.9 228.1 342.2 238.5 347.3 246.2C352.4 253.9 357.5 265.7 360.6 270.9C363.8 276.1 363.7 276.2 366.2 277.5C368.7 278.8 368.8 280.4 375.7 278.6C382.6 276.8 402.5 268.5 407.9 266.5" fill="none" stroke="#2f3a2e" stroke-width="0.9" stroke-linecap="round" stroke-linejoin="round"/>
<path d="M411.7 272.7C418.3 274.9 438.5 281.6 451.4 286C464.3 290.4 481.4 295.7 489.3 299.2C497.2 302.7 494.7 304.6 498.8 306.8C502.9 309 510.4 310.8 513.9 312.5C517.4 314.2 516.9 316.4 519.6 317.2C522.3 318 526.7 322 530 317.2C533.3 312.4 536.1 294.5 539.3 288.2C542.4 281.9 546 281.7 548.9 279.6C551.8 277.5 554.7 277.8 556.6 275.7C558.5 273.6 558.6 268.6 560.5 267C562.4 265.4 565.6 265.8 568.2 266C570.8 266.2 573.5 266.7 575.9 268C578.3 269.3 580.4 272.4 582.6 273.8C584.8 275.2 587.2 276.7 589.3 276.7C591.4 276.7 593 274.5 595.1 273.8C597.2 273.1 600.1 272.2 601.9 272.3C603.7 272.4 605.1 274.3 605.7 274.7" fill="none" stroke="#2f3a2e" stroke-width="0.9" stroke-linecap="round" stroke-linejoin="round"/>
<path d="M605.7 274.7L607.6 287.5L613.4 292.6L614.7 300L622.4 306.8L624.3 313.8L631.4 319.6" fill="none" stroke="#2f3a2e" stroke-width="0.9" stroke-linecap="round" stroke-linejoin="round"/>
<path d="M631.4 319.6C633 321.3 637.4 325.3 641.3 329.8C645.2 334.3 649.8 340.2 654.8 346.7C659.8 353.2 666 361.1 671.6 368.6C677.2 376.2 683.9 385.8 688.5 392C693.1 398.2 695.6 401.3 699 406C702.4 410.7 703.2 413.7 709 420C714.8 426.3 725.3 436.4 733.6 443.7C741.9 451 750.4 457.6 758.8 463.9C767.2 470.2 775.6 476.5 784 481.5C792.4 486.5 801.4 490.6 809 494C816.6 497.4 824.8 499.4 829.5 501.7C834.2 504 832 505.5 837 508C842 510.5 851.7 514.3 859.7 516.8C867.7 519.3 876.6 520.9 885 523C893.4 525.1 902.3 527.6 910 529.5C917.7 531.4 927.8 533.7 931.4 534.5" fill="none" stroke="#2f3a2e" stroke-width="0.9" stroke-linecap="round" stroke-linejoin="round"/>
<path d="M971.7 455C970.4 456 966.3 457.8 963.7 461C961.1 464.2 958.1 469.7 956 474C953.9 478.3 953.5 482.8 951 486.6C948.5 490.4 944.3 494.2 941 496.7C937.7 499.2 933 500.9 931.4 501.7" fill="none" stroke="#2f3a2e" stroke-width="0.9" stroke-linecap="round" stroke-linejoin="round"/>
<path d="M1101.3 191.6C1104.8 191.5 1114.4 191.5 1122 191C1129.6 190.5 1138.7 190.2 1147 188.5C1155.3 186.8 1163.6 183.2 1172 181C1180.4 178.8 1189.3 176.8 1197.6 175.4C1205.9 174.1 1217.6 173.3 1221.6 172.9" fill="none" stroke="#2f3a2e" stroke-width="0.9" stroke-linecap="round" stroke-linejoin="round"/>
<path d="M993.4 262.4L1004 250.8" fill="none" stroke="#2f3a2e" stroke-width="0.9" stroke-linecap="round" stroke-linejoin="round"/>
<path d="M1007.9 230.6L1022 221" fill="none" stroke="#2f3a2e" stroke-width="0.9" stroke-linecap="round" stroke-linejoin="round"/>
<path d="M1024.6 214.3L1045.4 201.5" fill="none" stroke="#2f3a2e" stroke-width="0.9" stroke-linecap="round" stroke-linejoin="round"/>
<path d="M992.8 284.8L1000.8 278.4" fill="none" stroke="#2f3a2e" stroke-width="0.9" stroke-linecap="round" stroke-linejoin="round"/>
<path d="M1006.9 245L1020.4 233.8" fill="none" stroke="#2f3a2e" stroke-width="0.9" stroke-linecap="round" stroke-linejoin="round"/>
<path d="M1023.3 229.6L1044 211" fill="none" stroke="#2f3a2e" stroke-width="0.9" stroke-linecap="round" stroke-linejoin="round"/>
<path d="M1004.7 259.8L1018.8 245.7" fill="none" stroke="#2f3a2e" stroke-width="0.9" stroke-linecap="round" stroke-linejoin="round"/>
<path d="M988.9 322L997.2 315" fill="none" stroke="#2f3a2e" stroke-width="0.9" stroke-linecap="round" stroke-linejoin="round"/>
<path d="M1046 200.8C1048.8 200.2 1055.6 198.3 1062.7 197C1069.8 195.7 1082 193.9 1088.4 193C1094.8 192.1 1099.2 191.8 1101.3 191.6" fill="none" stroke="#2f3a2e" stroke-width="0.9" stroke-linecap="round" stroke-linejoin="round"/>
<path d="M1044.8 210.4C1047.8 208.8 1057.6 203.2 1062.7 200.8C1067.8 198.5 1069.2 197.8 1075.6 196.3C1082 194.8 1097 192.6 1101.3 191.8" fill="none" stroke="#2f3a2e" stroke-width="0.9" stroke-linecap="round" stroke-linejoin="round"/>
<path d="M113 180.4C114.5 189.8 120.3 221.1 122 236.7C123.7 252.3 123.1 267.8 123.3 274" fill="none" stroke="#111" stroke-width="2.0" stroke-linecap="round" stroke-linejoin="round"/>
<path d="M209 222.8L203 264" fill="none" stroke="#111" stroke-width="2.0" stroke-linecap="round" stroke-linejoin="round"/>
<path d="M227 224.8L221 264" fill="none" stroke="#111" stroke-width="2.0" stroke-linecap="round" stroke-linejoin="round"/>
<path d="M259 217L247.7 269.5" fill="none" stroke="#111" stroke-width="2.0" stroke-linecap="round" stroke-linejoin="round"/>
<path d="M268 207L253.8 291" fill="none" stroke="#111" stroke-width="2.0" stroke-linecap="round" stroke-linejoin="round"/>
<path d="M292.4 112.2C293.1 120.3 296.8 144.5 296.7 161C296.6 177.5 294.4 193.8 292 211C289.6 228.2 283.7 255.2 282 264" fill="none" stroke="#111" stroke-width="2.0" stroke-linecap="round" stroke-linejoin="round"/>
<path d="M319.2 188.7C319.8 197.2 321.4 222.6 322.5 240C323.6 257.4 325.2 284.5 325.8 293.4" fill="none" stroke="#111" stroke-width="2.0" stroke-linecap="round" stroke-linejoin="round"/>
<path d="M327.7 207C328.2 216.7 329.9 246.3 331 265C332.1 283.7 333.5 310 334 319" fill="none" stroke="#111" stroke-width="2.0" stroke-linecap="round" stroke-linejoin="round"/>
<path d="M407.6 244.8C408.6 251 410.3 269.1 413.4 282C416.5 294.9 421.4 309.5 426 322C430.6 334.5 438.5 351 441 356.8" fill="none" stroke="#111" stroke-width="2.0" stroke-linecap="round" stroke-linejoin="round"/>
<path d="M561 203C557.8 214.5 548.9 244.6 542 271.8C535.1 299 523.2 350.6 519.4 366.4" fill="none" stroke="#111" stroke-width="2.0" stroke-linecap="round" stroke-linejoin="round"/>
<path d="M547.9 231L540.8 276.8" fill="none" stroke="#111" stroke-width="2.0" stroke-linecap="round" stroke-linejoin="round"/>
<path d="M561 243.5C560.8 247.8 561.2 259.2 559.7 269C558.2 278.8 554.9 293.7 552 302C549.1 310.3 544.2 316.2 542.6 319" fill="none" stroke="#111" stroke-width="2.0" stroke-linecap="round" stroke-linejoin="round"/>
<path d="M575.6 227.6L583.5 360.6" fill="none" stroke="#111" stroke-width="2.0" stroke-linecap="round" stroke-linejoin="round"/>
<path d="M602 231L607 302.8" fill="none" stroke="#111" stroke-width="2.0" stroke-linecap="round" stroke-linejoin="round"/>
<path d="M611.5 211C612.9 220.7 616.1 244.8 620 269C623.9 293.2 632.5 341.5 635 356" fill="none" stroke="#111" stroke-width="2.0" stroke-linecap="round" stroke-linejoin="round"/>
<path d="M614 284L614 311" fill="none" stroke="#111" stroke-width="2.0" stroke-linecap="round" stroke-linejoin="round"/>
<path d="M622 294.5L624.6 326" fill="none" stroke="#111" stroke-width="2.0" stroke-linecap="round" stroke-linejoin="round"/>
<path d="M670.5 273C671.5 278.7 674.1 296 676.8 307C679.5 318 685.2 333.7 686.9 339" fill="none" stroke="#111" stroke-width="2.0" stroke-linecap="round" stroke-linejoin="round"/>
<path d="M731 334.6L707 434.8" fill="none" stroke="#111" stroke-width="2.0" stroke-linecap="round" stroke-linejoin="round"/>
<path d="M772.7 323C775.9 334.3 787.1 373.9 791.6 390.7C796.1 407.4 798.6 418 800 423.5" fill="none" stroke="#111" stroke-width="2.0" stroke-linecap="round" stroke-linejoin="round"/>
<path d="M808.5 337.4C807.6 347.1 805.4 375 803 395.7C800.6 416.4 795.5 450.8 794 461.8" fill="none" stroke="#111" stroke-width="2.0" stroke-linecap="round" stroke-linejoin="round"/>
<path d="M840 275L832 343" fill="none" stroke="#111" stroke-width="2.0" stroke-linecap="round" stroke-linejoin="round"/>
<path d="M845.9 236L871 385.6" fill="none" stroke="#111" stroke-width="2.0" stroke-linecap="round" stroke-linejoin="round"/>
<path d="M920 249L931 360.5" fill="none" stroke="#111" stroke-width="2.0" stroke-linecap="round" stroke-linejoin="round"/>
<path d="M1047.4 189.8C1046.5 197.2 1043.6 220.2 1042 234C1040.4 247.8 1038.9 261.7 1037.9 272.7C1036.9 283.7 1036.8 290.4 1036 300C1035.2 309.6 1034.9 317 1033.4 330C1032 343 1028.3 370 1027.3 378" fill="none" stroke="#111" stroke-width="2.0" stroke-linecap="round" stroke-linejoin="round"/>
<path d="M1024.7 207C1023.8 213.7 1021.2 226.5 1019 247C1016.8 267.5 1012.9 311.5 1011.4 330C1009.9 348.5 1011.7 345.4 1010.3 357.9C1008.9 370.4 1004 397.1 1002.8 405" fill="none" stroke="#111" stroke-width="2.0" stroke-linecap="round" stroke-linejoin="round"/>
<path d="M1007.6 230.5C1006.7 237.5 1004.3 256.1 1002.4 272.7C1000.5 289.3 997.8 315.8 996 330C994.2 344.2 992.6 344.9 991.4 357.9C990.2 370.9 990.7 389.7 988.9 408C987.1 426.3 982 457.7 980.6 467.6" fill="none" stroke="#111" stroke-width="2.0" stroke-linecap="round" stroke-linejoin="round"/>
<path d="M991.5 252.4C991.8 254.5 992.9 260.1 993.1 264.9C993.3 269.7 993.1 273.3 992.5 281C991.9 288.7 990.5 302.8 989.5 311C988.5 319.2 988 318.5 986.3 330C984.6 341.5 981.4 364.8 979.3 380C977.2 395.2 975.1 408.7 973.8 421C972.5 433.3 973.8 438.7 971.7 453.8C969.6 468.9 964.5 495.4 961 511.8C957.5 528.2 954.9 537.9 951 552C947.1 566.1 939.9 588.9 937.7 596.3" fill="none" stroke="#111" stroke-width="2.0" stroke-linecap="round" stroke-linejoin="round"/>
<path d="M976.3 337.7C973.8 343.2 966.9 359.1 961 370.5C955.1 381.9 949.4 393.6 941 405.8C932.6 418 921.2 433.2 910.7 443.7C900.2 454.2 888.1 459.7 877.9 468.9C867.7 478.1 854.1 493.7 849.3 498.7" fill="none" stroke="#111" stroke-width="2.0" stroke-linecap="round" stroke-linejoin="round"/>
<path d="M930.9 490.9C931.1 498.2 932.6 514.6 932 534.5C931.4 554.4 927.8 597.4 927 610" fill="none" stroke="#111" stroke-width="2.0" stroke-linecap="round" stroke-linejoin="round"/>
</g>
<g id="panelB">
<path d="M48.7 663.3C50.4 663.5 56.1 664.4 59 664.7C61.9 665 63.9 665.2 66 665C68.1 664.8 69.7 663.8 71.5 663.4C73.3 663 75.2 662.6 77 662.6C78.8 662.6 79.8 662.3 82.5 663.2C85.2 664.1 87.4 666.4 93.4 667.9C99.4 669.4 110.7 670.2 118.6 672C126.5 673.8 133 677 141 678.5C149 680 158.6 679.6 166.6 681C174.6 682.4 185.3 685.8 189 686.8L189 686.8C195.3 687.3 215 688.3 227 689.8C239 691.2 252.6 694.5 261 695.5C269.4 696.5 271.1 695.4 277.6 696C284.1 696.6 293.1 697.8 300 699C306.9 700.2 310.7 701.7 319 703C327.3 704.3 339.8 705.5 350 706.8C360.2 708.1 370 709.2 380 710.8C390 712.4 400.5 714.6 410 716.5C419.5 718.4 427.6 720 436.8 722.2C446 724.5 455.5 727.2 465 730C474.5 732.8 484.4 736.1 493.6 738.7C502.8 741.3 510.5 743.2 520 745.5C529.5 747.8 538.5 750.1 550.4 752.5C562.3 754.9 579.8 757.5 591.4 760C603 762.5 607.4 762.9 620 767.6C632.6 772.4 650.7 780.8 667 788.5C683.3 796.2 705.4 807.9 717.6 813.8C729.8 819.7 732.9 821.1 740 824C747.1 826.9 751.6 827.7 760 831C768.4 834.3 779.2 839.5 790.5 844C801.8 848.5 817.9 855.5 828 858C838.1 860.5 847.2 858.8 851 859L851 859L856 869.5L861 892C862.3 894.5 865.5 902.2 868.7 907C871.9 911.8 876.8 915.2 880 921C883.2 926.8 883.7 933.9 887.8 941.5C891.9 949.1 898.3 957.5 904.5 966.7C910.7 976 918.5 988.5 925 997C931.5 1005.5 937.8 1011.2 943.5 1017.4C949.2 1023.6 953.5 1028.5 959.3 1034C965.1 1039.5 973 1046 978.5 1050.7C984 1055.4 989.8 1060.1 992 1062L992 1062C987.6 1062.6 975.1 1064.5 965.7 1065.5C956.3 1066.5 953.3 1066.8 935.7 1067.7C918.1 1068.6 879.7 1070.7 860 1071C840.3 1071.3 828.9 1070.3 817.6 1069.8C806.3 1069.3 800.8 1069 792.4 1068C784 1067 775.4 1065.7 767 1064C758.6 1062.3 750.4 1060.5 742 1058C733.6 1055.5 725.1 1052.6 716.7 1049C708.3 1045.4 699.9 1041.2 691.4 1036.5C682.9 1031.8 674.4 1026.1 666 1021C657.6 1015.9 649.4 1010.6 641 1006C632.6 1001.4 624.1 997.8 615.7 993.6C607.3 989.4 598.1 986.1 590.5 981C582.9 975.9 575.5 968.7 570 963C564.5 957.3 561 952.6 557.3 947C553.6 941.4 550.4 934.7 547.7 929.3C545 923.9 543.7 919.9 541.3 914.8C538.9 909.7 535.9 903.1 533.2 898.8C530.5 894.5 528.7 892.2 525.2 889C521.7 885.8 517.2 882.7 512.4 879.5C507.6 876.3 504.3 874.2 496.3 869.9C488.3 865.6 474.9 859.1 464.2 853.8C453.5 848.4 442.7 843 432 837.8C421.3 832.6 407.5 826 400 822.5C392.5 819 401.8 823.5 387 817C372.2 810.5 336.6 794.8 311.4 783.8C286.2 772.8 253.9 758.3 235.7 751C217.4 743.7 215.9 744.7 201.9 740C187.9 735.3 168.2 728 151.4 722.6C134.6 717.2 118.1 712.3 101 707.5C83.9 702.7 57.4 695.9 48.7 693.6Z" fill="#D4E7DB"/>
<path d="M48.7 663.3C50.4 663.5 56.1 664.4 59 664.7C61.9 665 63.9 665.2 66 665C68.1 664.8 69.7 663.8 71.5 663.4C73.3 663 75.2 662.6 77 662.6C78.8 662.6 79.8 662.3 82.5 663.2C85.2 664.1 87.4 666.4 93.4 667.9C99.4 669.4 110.7 670.2 118.6 672C126.5 673.8 133 677 141 678.5C149 680 158.6 679.6 166.6 681C174.6 682.4 185.3 685.8 189 686.8L189 686.8C195.3 687.3 215 688.3 227 689.8C239 691.2 252.6 694.5 261 695.5C269.4 696.5 271.1 695.4 277.6 696C284.1 696.6 293.1 697.8 300 699C306.9 700.2 315.8 702.3 319 703L319 703C323.7 704.7 338.6 710.4 347.3 713C356 715.6 364.2 717.7 371 718.6C377.8 719.5 385.4 718.6 388.3 718.6L391.5 722.6C394.1 724.2 403.4 730.7 407.3 732C411.2 733.3 411.9 729.7 415 730.5C418.1 731.3 421.5 734.7 426 736.8C430.5 738.9 435.4 740.6 442 743C448.6 745.4 457.7 748.5 465.6 751C473.5 753.5 483.6 756.2 489.3 758C495 759.8 492.1 758.3 500 762C507.9 765.7 526.3 775.3 536.4 780C546.5 784.7 553.1 786.9 560.5 790.4C567.9 793.9 574.4 798.2 581 801C587.6 803.8 589.9 804 600 807.3C610.1 810.6 626.6 815.1 641.9 821C657.2 826.9 677.3 836.8 692 842.8C706.7 848.8 722 853.5 730 856.7C738 859.9 734.2 859.4 740 861.9C745.8 864.4 754.5 868.6 765 872C775.5 875.4 790.3 880.2 803 882C815.7 883.8 831.7 883 841 883C850.3 883 855.7 882.2 858.6 882L861 892C862.3 894.5 865.5 902.2 868.7 907C871.9 911.8 876.8 915.2 880 921C883.2 926.8 883.7 933.9 887.8 941.5C891.9 949.1 898.3 957.5 904.5 966.7C910.7 976 918.5 988.5 925 997C931.5 1005.5 937.8 1011.2 943.5 1017.4C949.2 1023.6 953.5 1028.5 959.3 1034C965.1 1039.5 973 1046 978.5 1050.7C984 1055.4 989.8 1060.1 992 1062L992 1062C987.6 1062.6 975.1 1064.5 965.7 1065.5C956.3 1066.5 953.3 1066.8 935.7 1067.7C918.1 1068.6 879.7 1070.7 860 1071C840.3 1071.3 828.9 1070.3 817.6 1069.8C806.3 1069.3 800.8 1069 792.4 1068C784 1067 775.4 1065.7 767 1064C758.6 1062.3 750.4 1060.5 742 1058C733.6 1055.5 725.1 1052.6 716.7 1049C708.3 1045.4 699.9 1041.2 691.4 1036.5C682.9 1031.8 674.4 1026.1 666 1021C657.6 1015.9 649.4 1010.6 641 1006C632.6 1001.4 624.1 997.8 615.7 993.6C607.3 989.4 598.1 986.1 590.5 981C582.9 975.9 575.5 968.7 570 963C564.5 957.3 561 952.6 557.3 947C553.6 941.4 550.4 934.7 547.7 929.3C545 923.9 543.7 919.9 541.3 914.8C538.9 909.7 535.9 903.1 533.2 898.8C530.5 894.5 528.7 892.2 525.2 889C521.7 885.8 517.2 882.7 512.4 879.5C507.6 876.3 504.3 874.2 496.3 869.9C488.3 865.6 474.9 859.1 464.2 853.8C453.5 848.4 442.7 843 432 837.8C421.3 832.6 407.5 826 400 822.5C392.5 819 401.8 823.5 387 817C372.2 810.5 336.6 794.8 311.4 783.8C286.2 772.8 253.9 758.3 235.7 751C217.4 743.7 215.9 744.7 201.9 740C187.9 735.3 168.2 728 151.4 722.6C134.6 717.2 118.1 712.3 101 707.5C83.9 702.7 57.4 695.9 48.7 693.6Z" fill="#ECF2D9"/>
<path d="M48.7 663.3C50.4 663.5 56.1 664.4 59 664.7C61.9 665 63.9 665.2 66 665C68.1 664.8 69.7 663.8 71.5 663.4C73.3 663 75.2 662.6 77 662.6C78.8 662.6 79.8 662.3 82.5 663.2C85.2 664.1 87.4 666.4 93.4 667.9C99.4 669.4 110.7 670.2 118.6 672C126.5 673.8 133 677 141 678.5C149 680 158.6 679.6 166.6 681C174.6 682.4 185.3 685.8 189 686.8L189 686.8C191.2 687.5 197.2 689.5 201.9 691C206.6 692.5 212 695 217 696C222 697 227.2 697 232 697.3C236.8 697.6 243.7 697.7 246 697.8L246 697.8L252 707L252 707C253.8 707.1 259.3 706.4 262.5 707.5C265.7 708.6 269.6 712.8 271 713.8L271 713.8C275.6 714.8 287.4 717.5 298.8 719.5C310.2 721.5 327.4 723.1 339.4 725.7C351.4 728.3 361.3 731.8 371 735C380.7 738.2 391.2 742.4 397.8 744.7C404.4 747 405.7 747.4 410.4 748.6C415.1 749.8 420.7 750.4 426 751.8C431.3 753.2 436.7 754.8 442 757C447.3 759.2 452.4 762.6 457.7 765C462.9 767.4 468 769.3 473.5 771.5C479 773.7 481.4 774.2 490.5 778C499.6 781.8 516.7 788.7 528.4 794.4C540.1 800.1 552.5 807.5 560.5 812C568.5 816.5 570 817.7 576.6 821.7C583.2 825.7 593.3 832.1 600 836C606.7 839.9 609.7 841.2 616.7 845C623.7 848.8 633.5 854.2 641.9 858.5C650.3 862.8 658.8 866.9 667 870.5C675.2 874.1 683.1 876.3 691.4 880C699.7 883.7 708.3 888.6 716.7 892.6C725.1 896.6 733.6 900 742 904C750.4 908 758.6 913 767 916.6C775.4 920.2 784.3 922.7 792.4 925.4C800.5 928.1 809.8 931.8 815.7 933C821.6 934.2 823 931.8 828 932.5C833 933.2 838.8 936.1 846 937C853.2 937.9 864.3 937.3 871 937.6C877.7 937.9 883.8 938.8 886.4 939L887.8 941.5C890.6 945.7 898.3 957.5 904.5 966.7C910.7 976 918.5 988.5 925 997C931.5 1005.5 937.8 1011.2 943.5 1017.4C949.2 1023.6 953.5 1028.5 959.3 1034C965.1 1039.5 973 1046 978.5 1050.7C984 1055.4 989.8 1060.1 992 1062L992 1062C987.6 1062.6 975.1 1064.5 965.7 1065.5C956.3 1066.5 953.3 1066.8 935.7 1067.7C918.1 1068.6 879.7 1070.7 860 1071C840.3 1071.3 828.9 1070.3 817.6 1069.8C806.3 1069.3 800.8 1069 792.4 1068C784 1067 775.4 1065.7 767 1064C758.6 1062.3 750.4 1060.5 742 1058C733.6 1055.5 725.1 1052.6 716.7 1049C708.3 1045.4 699.9 1041.2 691.4 1036.5C682.9 1031.8 674.4 1026.1 666 1021C657.6 1015.9 649.4 1010.6 641 1006C632.6 1001.4 624.1 997.8 615.7 993.6C607.3 989.4 598.1 986.1 590.5 981C582.9 975.9 575.5 968.7 570 963C564.5 957.3 561 952.6 557.3 947C553.6 941.4 550.4 934.7 547.7 929.3C545 923.9 543.7 919.9 541.3 914.8C538.9 909.7 535.9 903.1 533.2 898.8C530.5 894.5 528.7 892.2 525.2 889C521.7 885.8 517.2 882.7 512.4 879.5C507.6 876.3 504.3 874.2 496.3 869.9C488.3 865.6 474.9 859.1 464.2 853.8C453.5 848.4 442.7 843 432 837.8C421.3 832.6 407.5 826 400 822.5C392.5 819 401.8 823.5 387 817C372.2 810.5 336.6 794.8 311.4 783.8C286.2 772.8 253.9 758.3 235.7 751C217.4 743.7 215.9 744.7 201.9 740C187.9 735.3 168.2 728 151.4 722.6C134.6 717.2 118.1 712.3 101 707.5C83.9 702.7 57.4 695.9 48.7 693.6Z" fill="#D9E6B0"/>
<path d="M48.7 663.3C50.4 663.5 56.1 664.4 59 664.7C61.9 665 63.9 665.2 66 665C68.1 664.8 69.7 663.8 71.5 663.4C73.3 663 75.2 662.6 77 662.6C78.8 662.6 79.8 662.3 82.5 663.2C85.2 664.1 87.4 666.4 93.4 667.9C99.4 669.4 110.7 670.2 118.6 672C126.5 673.8 133 677 141 678.5C149 680 158.6 679.6 166.6 681C174.6 682.4 185.3 685.8 189 686.8L189 686.8C191.2 687.5 197.2 689.5 201.9 691C206.6 692.5 212 695 217 696C222 697 227.2 697 232 697.3C236.8 697.6 243.7 697.7 246 697.8L246 697.8L252 707L252 707C253.8 707.1 259.3 706.4 262.5 707.5C265.7 708.6 266.8 711.3 271 713.8C275.2 716.3 284.2 720.4 287.7 722.6C291.2 724.8 289.3 726 292 727C294.7 728 299.7 727.2 303.8 728.5C307.9 729.8 311.9 733.1 316.5 734.6C321.1 736.1 326.9 737.5 331.5 737.6C336.1 737.7 340.6 734.8 344 735C347.4 735.2 348.3 737 352 739C355.7 741 360.5 745.5 366 747C371.5 748.5 380.2 747.1 385 747.8C389.8 748.5 392.6 750.3 394.6 751C396.6 751.7 396.6 751.8 397 752L397 752L404 767.5L404 767.5C406.1 766.9 413.8 764 416.7 763.6C419.6 763.2 419.6 763.9 421.5 765C423.4 766.1 423.4 768.9 427.8 770C432.2 771.1 444.1 771 448 771.5C451.9 772 450.8 772.8 451.4 773L451.4 773L455.4 779C456 779.2 457.5 778.8 459 780C460.5 781.2 462 784.9 464.2 786.4C466.4 787.9 467.7 788.4 472 788.8C476.3 789.2 484.3 787.6 490 788.8C495.7 790 499.6 793 506 796C512.4 799 522.6 803.7 528.4 807C534.2 810.3 535.6 813 541 816C546.4 819 555.1 822.2 560.5 825C565.9 827.8 569.9 830.3 573.4 833C576.9 835.7 577.5 838.7 581.4 841C585.2 843.3 590.6 844 596.5 846.6C602.4 849.2 609.1 852.1 616.7 856.7C624.3 861.3 634.5 870.1 641.9 874C649.3 877.9 652.8 876.5 661 880C669.2 883.5 683.8 890.4 691.4 895C699 899.6 700.7 904 706.6 907.8C712.5 911.6 721.3 915.4 726.7 917.9C732.1 920.4 734 920.6 739 922.9C744 925.2 749.8 928.8 757 931.7C764.2 934.7 774 937.7 782 940.6C790 943.5 799.1 946.9 805 949.4C810.9 951.9 812.1 953.8 817.6 955.7C823.1 957.6 830.7 959.8 837.8 961C844.9 962.2 852.1 962.2 860 963C867.9 963.8 877.5 965.2 885 966C892.5 966.8 901.9 967.7 905.3 968L925 997C928.1 1000.4 937.8 1011.2 943.5 1017.4C949.2 1023.6 953.5 1028.5 959.3 1034C965.1 1039.5 973 1046 978.5 1050.7C984 1055.4 989.8 1060.1 992 1062L992 1062C987.6 1062.6 975.1 1064.5 965.7 1065.5C956.3 1066.5 953.3 1066.8 935.7 1067.7C918.1 1068.6 879.7 1070.7 860 1071C840.3 1071.3 828.9 1070.3 817.6 1069.8C806.3 1069.3 800.8 1069 792.4 1068C784 1067 775.4 1065.7 767 1064C758.6 1062.3 750.4 1060.5 742 1058C733.6 1055.5 725.1 1052.6 716.7 1049C708.3 1045.4 699.9 1041.2 691.4 1036.5C682.9 1031.8 674.4 1026.1 666 1021C657.6 1015.9 649.4 1010.6 641 1006C632.6 1001.4 624.1 997.8 615.7 993.6C607.3 989.4 598.1 986.1 590.5 981C582.9 975.9 575.5 968.7 570 963C564.5 957.3 561 952.6 557.3 947C553.6 941.4 550.4 934.7 547.7 929.3C545 923.9 543.7 919.9 541.3 914.8C538.9 909.7 535.9 903.1 533.2 898.8C530.5 894.5 528.7 892.2 525.2 889C521.7 885.8 517.2 882.7 512.4 879.5C507.6 876.3 504.3 874.2 496.3 869.9C488.3 865.6 474.9 859.1 464.2 853.8C453.5 848.4 442.7 843 432 837.8C421.3 832.6 407.5 826 400 822.5C392.5 819 401.8 823.5 387 817C372.2 810.5 336.6 794.8 311.4 783.8C286.2 772.8 253.9 758.3 235.7 751C217.4 743.7 215.9 744.7 201.9 740C187.9 735.3 168.2 728 151.4 722.6C134.6 717.2 118.1 712.3 101 707.5C83.9 702.7 57.4 695.9 48.7 693.6Z" fill="#A5D8F5"/>
<path d="M48.7 663.3C50.4 663.5 56.1 664.4 59 664.7C61.9 665 63.9 665.2 66 665C68.1 664.8 69.7 663.8 71.5 663.4C73.3 663 75.2 662.6 77 662.6C78.8 662.6 79.8 662.3 82.5 663.2C85.2 664.1 87.4 666.4 93.4 667.9C99.4 669.4 110.7 670.2 118.6 672C126.5 673.8 133 677 141 678.5C149 680 158.6 679.6 166.6 681C174.6 682.4 185.3 685.8 189 686.8L189 686.8C191.2 687.5 197.2 689.5 201.9 691C206.6 692.5 212 695 217 696C222 697 227.2 697 232 697.3C236.8 697.6 243.7 697.7 246 697.8L246 697.8L252 707L252 707C253.8 707.1 259.3 706.4 262.5 707.5C265.7 708.6 266.8 711.3 271 713.8C275.2 716.3 284.2 720.4 287.7 722.6C291.2 724.8 289.3 726 292 727C294.7 728 299.7 727.2 303.8 728.5C307.9 729.8 311.9 733.1 316.5 734.6C321.1 736.1 326.9 737.5 331.5 737.6C336.1 737.7 340.6 734.8 344 735C347.4 735.2 348.3 737 352 739C355.7 741 360.5 745.5 366 747C371.5 748.5 380.2 747.1 385 747.8C389.8 748.5 392.6 750.3 394.6 751C396.6 751.7 396.6 751.8 397 752L397 752L404 767.5L404 767.5C406.1 766.9 413.8 764 416.7 763.6C419.6 763.2 419.6 763.9 421.5 765C423.4 766.1 423.4 768.9 427.8 770C432.2 771.1 444.1 771 448 771.5C451.9 772 450.8 772.8 451.4 773L451.4 773L455.4 781.7L455.4 781.7C456.9 782.9 461.4 787.1 464.2 788.8C467 790.4 467.7 791.1 472 791.6C476.3 792.1 484.3 790.4 490 791.6C495.7 792.8 499.6 795.9 506 799C512.4 802.1 522.6 806.8 528.4 810.5C534.2 814.2 535.6 817.8 541 821C546.4 824.2 555.1 826.5 560.5 829.8C565.9 833.1 569.9 837.8 573.4 841C576.9 844.2 580.1 847.7 581.4 849L581.4 849C584.8 850.3 595.6 854 601.5 856.7C607.4 859.5 610 861.3 616.7 865.5C623.4 869.7 633.7 877.1 641.9 882C650.1 886.9 657.8 890.1 666 895C674.2 899.9 684.6 906.8 691.4 911.5C698.2 916.2 700.3 919.2 706.6 923C712.9 926.8 721.3 929.6 729.3 934C737.3 938.4 746.1 944.9 754.5 949.4C762.9 953.9 771.3 957 779.7 960.8C788.1 964.6 798.7 968.9 805 972C811.3 975.1 813.4 977.4 817.6 979.7C821.8 982 822.9 984.3 830 986C837.1 987.7 848.7 988.4 860 990C871.3 991.6 887.1 994.6 897.9 995.8C908.7 997 920.5 996.8 925 997L943.5 1017.4C946.1 1020.2 953.5 1028.5 959.3 1034C965.1 1039.5 973 1046 978.5 1050.7C984 1055.4 989.8 1060.1 992 1062L992 1062C987.6 1062.6 975.1 1064.5 965.7 1065.5C956.3 1066.5 953.3 1066.8 935.7 1067.7C918.1 1068.6 879.7 1070.7 860 1071C840.3 1071.3 828.9 1070.3 817.6 1069.8C806.3 1069.3 800.8 1069 792.4 1068C784 1067 775.4 1065.7 767 1064C758.6 1062.3 750.4 1060.5 742 1058C733.6 1055.5 725.1 1052.6 716.7 1049C708.3 1045.4 699.9 1041.2 691.4 1036.5C682.9 1031.8 674.4 1026.1 666 1021C657.6 1015.9 649.4 1010.6 641 1006C632.6 1001.4 624.1 997.8 615.7 993.6C607.3 989.4 598.1 986.1 590.5 981C582.9 975.9 575.5 968.7 570 963C564.5 957.3 561 952.6 557.3 947C553.6 941.4 550.4 934.7 547.7 929.3C545 923.9 543.7 919.9 541.3 914.8C538.9 909.7 535.9 903.1 533.2 898.8C530.5 894.5 528.7 892.2 525.2 889C521.7 885.8 517.2 882.7 512.4 879.5C507.6 876.3 504.3 874.2 496.3 869.9C488.3 865.6 474.9 859.1 464.2 853.8C453.5 848.4 442.7 843 432 837.8C421.3 832.6 407.5 826 400 822.5C392.5 819 401.8 823.5 387 817C372.2 810.5 336.6 794.8 311.4 783.8C286.2 772.8 253.9 758.3 235.7 751C217.4 743.7 215.9 744.7 201.9 740C187.9 735.3 168.2 728 151.4 722.6C134.6 717.2 118.1 712.3 101 707.5C83.9 702.7 57.4 695.9 48.7 693.6Z" fill="#C6A3D2"/>
<path d="M48.7 663.3C50.4 663.5 56.1 664.4 59 664.7C61.9 665 63.9 665.2 66 665C68.1 664.8 69.7 663.8 71.5 663.4C73.3 663 75.2 662.6 77 662.6C78.8 662.6 79.8 662.3 82.5 663.2C85.2 664.1 87.4 666.4 93.4 667.9C99.4 669.4 110.7 670.2 118.6 672C126.5 673.8 133 677 141 678.5C149 680 158.6 679.6 166.6 681C174.6 682.4 185.3 685.8 189 686.8L189 686.8C191.2 687.5 197.2 689.5 201.9 691C206.6 692.5 212 695 217 696C222 697 227.2 697 232 697.3C236.8 697.6 243.7 697.7 246 697.8L246 697.8L252 707L252 707C253.8 707.1 259.3 706.4 262.5 707.5C265.7 708.6 266.8 711.3 271 713.8C275.2 716.3 284.2 720.4 287.7 722.6C291.2 724.8 289.3 726 292 727C294.7 728 299.7 727.2 303.8 728.5C307.9 729.8 311.9 733.1 316.5 734.6C321.1 736.1 326.9 737.5 331.5 737.6C336.1 737.7 340.6 734.8 344 735C347.4 735.2 348.3 737 352 739C355.7 741 360.5 745.5 366 747C371.5 748.5 380.2 747.1 385 747.8C389.8 748.5 392.6 750.3 394.6 751C396.6 751.7 396.6 751.8 397 752L397 752L404 767.5L404 767.5C406.1 766.9 413.8 764 416.7 763.6C419.6 763.2 419.6 763.9 421.5 765C423.4 766.1 423.4 768.9 427.8 770C432.2 771.1 444.1 771 448 771.5C451.9 772 450.8 772.8 451.4 773L451.4 773L455.4 781.7L455.4 781.7C456.9 782.9 461.4 787.1 464.2 788.8C467 790.4 467.7 791.1 472 791.6C476.3 792.1 484.3 790.4 490 791.6C495.7 792.8 499.6 795.9 506 799C512.4 802.1 522.6 806.8 528.4 810.5C534.2 814.2 535.6 817.8 541 821C546.4 824.2 555.1 826.5 560.5 829.8C565.9 833.1 569.9 837.8 573.4 841C576.9 844.2 580.1 847.7 581.4 849L581.4 849C582.5 850.8 585.9 856 587.8 860C589.7 864 590.9 869.7 592.6 873C594.3 876.3 596.1 877.2 598 880C599.9 882.8 601.9 886.2 604 889.5C606.1 892.8 608.4 895.8 610.7 900C613 904.2 615.1 910.8 618 915C620.9 919.2 622.1 920.5 628 925C633.9 929.5 645.1 935.8 653.6 941.8C662.1 947.8 672.5 956.4 678.8 960.8C685.1 965.2 685.9 965.3 691.4 968C696.9 970.7 704.9 973.6 711.6 977C718.3 980.4 724.6 984.9 731.8 988.5C738.9 992.1 746.5 995.2 754.5 998.6C762.5 1002 771.3 1005.1 779.7 1008.7C788.1 1012.3 798.5 1017 805 1020C811.5 1023 816.6 1025.3 818.9 1026.4L818.9 1026.4L822.6 1021.3L822.6 1021.3C825.8 1021.3 835.8 1021.2 842 1021.3C848.2 1021.4 854.3 1021.6 860 1022C865.7 1022.4 870.7 1023.6 876 1023.4C881.3 1023.2 886.6 1021.3 892 1020.6C897.4 1019.9 902.8 1019.3 908.2 1019.1C913.6 1018.9 918.7 1019.4 924.2 1019.3C929.7 1019.2 938.4 1018.5 941.3 1018.3L959.3 1034C962.5 1036.8 973 1046 978.5 1050.7C984 1055.4 989.8 1060.1 992 1062L992 1062C987.6 1062.6 975.1 1064.5 965.7 1065.5C956.3 1066.5 953.3 1066.8 935.7 1067.7C918.1 1068.6 879.7 1070.7 860 1071C840.3 1071.3 828.9 1070.3 817.6 1069.8C806.3 1069.3 800.8 1069 792.4 1068C784 1067 775.4 1065.7 767 1064C758.6 1062.3 750.4 1060.5 742 1058C733.6 1055.5 725.1 1052.6 716.7 1049C708.3 1045.4 699.9 1041.2 691.4 1036.5C682.9 1031.8 674.4 1026.1 666 1021C657.6 1015.9 649.4 1010.6 641 1006C632.6 1001.4 624.1 997.8 615.7 993.6C607.3 989.4 598.1 986.1 590.5 981C582.9 975.9 575.5 968.7 570 963C564.5 957.3 561 952.6 557.3 947C553.6 941.4 550.4 934.7 547.7 929.3C545 923.9 543.7 919.9 541.3 914.8C538.9 909.7 535.9 903.1 533.2 898.8C530.5 894.5 528.7 892.2 525.2 889C521.7 885.8 517.2 882.7 512.4 879.5C507.6 876.3 504.3 874.2 496.3 869.9C488.3 865.6 474.9 859.1 464.2 853.8C453.5 848.4 442.7 843 432 837.8C421.3 832.6 407.5 826 400 822.5C392.5 819 401.8 823.5 387 817C372.2 810.5 336.6 794.8 311.4 783.8C286.2 772.8 253.9 758.3 235.7 751C217.4 743.7 215.9 744.7 201.9 740C187.9 735.3 168.2 728 151.4 722.6C134.6 717.2 118.1 712.3 101 707.5C83.9 702.7 57.4 695.9 48.7 693.6Z" fill="#EBCCA5"/>
<path d="M847 831.6C847.2 832.5 847 830.4 848.5 836.7C850 843 853.9 860.3 856 869.5C858.1 878.7 858.9 885.8 861 892C863.1 898.2 865.5 902.2 868.7 907C871.9 911.8 877 916.2 880 921C883 925.8 885.4 933.5 886.5 936L886.5 936C887.3 935.8 887.2 935.1 891.4 934.5C895.6 933.9 905.9 933.5 911.7 932.3C917.5 931 921.7 928.9 926 927C930.3 925.1 933.6 922.1 937.7 920.7C941.8 919.3 948.5 918.9 950.7 918.5L950.7 918.5C950.2 917.3 950.7 917.4 947.8 911.4C944.9 905.4 938.1 893.1 933.3 882.5C928.5 871.9 922.5 857.4 918.9 847.8C915.3 838.2 913.5 832.7 911.5 825C909.5 817.3 907.4 805.5 906.6 801.6L880 790L847 800Z" fill="#ECF2D9"/>
<path d="M847 831.6C847.2 832.5 847 830.4 848.5 836.7C850 843 853.9 861 856 869.5C858.1 878 860.2 884.9 861 888L861 888C862.7 888.3 866.2 890.6 871 889.7C875.8 888.8 884.4 884.1 890 882.5C895.6 880.9 899.7 881.5 904.5 880.3C909.3 879.1 915.3 876.5 918.9 875.2C922.5 873.9 924.9 872.8 926.1 872.3L926.1 872.3C924.9 868.2 921.3 855.7 918.9 847.8C916.5 839.9 913.5 832.7 911.5 825C909.5 817.3 907.4 805.5 906.6 801.6L880 790L847 800Z" fill="#D4E7DB"/>
<path d="M48.7 653.8C57.4 654.1 83.9 655 101 655.5C118.1 656 130.4 655.9 151.4 657C172.4 658.1 208.7 660.7 227 662C245.3 663.3 252.6 664.4 261 665C269.4 665.6 267.8 664.9 277.6 665.9C287.4 666.9 310.1 669.5 320 670.9C329.9 672.2 328.7 672.5 336.7 674C344.7 675.5 359.4 678.1 367.8 680C376.2 681.9 377.3 682.8 387 685.4C396.7 688 417.2 693.4 426 695.8C434.8 698.2 431 697.8 440 700C449 702.2 467.4 705.4 480 709C492.6 712.6 497.1 715.3 515.7 721.6C534.3 727.9 570.4 739.2 591.4 746.9C612.4 754.6 629.3 762.1 641.9 768C654.5 773.9 660.3 778.8 667 782C673.7 785.2 673.6 785.9 682 787C690.4 788.1 707.9 788.2 717.6 788.5C727.3 788.8 727.9 788.2 740 788.7C752.1 789.2 777.8 790.7 790.5 791.3C803.2 791.9 809.1 792.1 816 792.3C822.9 792.5 828.3 792.9 832 792.3C835.7 791.7 836.6 791.2 838.3 788.8C840 786.4 840.6 780.5 842.2 777.8C843.8 775 845.5 773.5 847.7 772.3C849.9 771.1 851.7 770.3 855.6 770.7C859.5 771.1 867.2 773.7 871.4 774.6C875.6 775.5 876.8 777 881 776C885.2 775 890.5 771 896.5 768.5C902.5 766 909.1 762.9 916.7 761C924.3 759.1 935.7 758.5 942 757C948.3 755.5 950.3 755.5 954.5 752C958.7 748.5 963.6 739.7 967 735.7C970.4 731.7 970.9 730.8 974.6 728C978.3 725.2 983.3 720.9 989 719C994.7 717.1 997.3 717.4 1008.6 716.5C1019.9 715.6 1045.7 715.1 1057 713.6C1068.3 712.1 1070.9 710.8 1076.6 707.5C1082.3 704.2 1086.6 699.1 1091 694C1095.4 688.9 1098.9 681.4 1103 677C1107.1 672.6 1107 670.4 1115.5 667.4C1124 664.4 1141.5 661.6 1154 659C1166.5 656.4 1179.5 654.3 1190.8 651.7C1202.1 649.1 1216.5 645 1221.6 643.6L1221.6 689.8C1218.5 691.8 1210.2 698.1 1203 701.5C1195.8 704.9 1186.8 707.2 1178.6 710C1170.4 712.8 1161.3 714.7 1154 718.5C1146.7 722.3 1139.7 727.8 1134.9 733C1130.1 738.2 1129 744.3 1125 750C1121 755.7 1117.1 762 1110.6 767C1104.1 772 1094.1 776.5 1086 780C1077.9 783.5 1068.4 786.1 1062 787.7C1055.6 789.3 1049.8 789.1 1047.4 789.4L1068 812.5L1068 812.5C1063.8 811.4 1049.1 807.6 1042.8 806C1036.5 804.4 1035.9 803.4 1030 802.6C1024.1 801.8 1015 801.6 1007.5 801C1000 800.4 989.9 800.2 984.8 798.8C979.7 797.4 979.1 794.2 977 792.5C974.9 790.8 975.9 788.9 972 788.7C968.1 788.5 956.7 791 953.6 791.4L953.9 799.8C952.9 799.9 950.3 799.9 947.8 800.4C945.3 800.9 941.8 802 939.1 803C936.4 804 932.8 806 931.5 806.6L931.5 806.6C931.2 807.6 930.6 811.3 929.5 812.5C928.4 813.7 926.8 813.6 925 813.6C923.2 813.6 920.9 813.3 918.9 812.6C916.9 811.9 914.8 809.7 913 809.2C911.2 808.7 908.8 809.5 908 809.5L907.6 814C906.6 815.2 904.2 817.7 901.5 821.5C898.8 825.3 894.8 832.5 891.4 836.7C888 840.9 884.4 845 881 846.7C877.6 848.4 874.7 847.5 871 846.7C867.3 845.9 862.6 844.2 858.6 841.7C854.6 839.2 848.9 833.3 847 831.6L851 859L851 859C847.2 858.8 838.1 860.5 828 858C817.9 855.5 801.8 848.5 790.5 844C779.2 839.5 768.4 834.3 760 831C751.6 827.7 747.1 826.9 740 824C732.9 821.1 729.8 819.7 717.6 813.8C705.4 807.9 683.3 796.2 667 788.5C650.7 780.8 632.6 772.4 620 767.6C607.4 762.9 603 762.5 591.4 760C579.8 757.5 562.3 754.9 550.4 752.5C538.5 750.1 529.5 747.8 520 745.5C510.5 743.2 502.8 741.3 493.6 738.7C484.4 736.1 474.5 732.8 465 730C455.5 727.2 446 724.5 436.8 722.2C427.6 720 419.5 718.4 410 716.5C400.5 714.6 390 712.4 380 710.8C370 709.2 360.2 708.1 350 706.8C339.8 705.5 327.3 704.3 319 703C310.7 701.7 306.9 700.2 300 699C293.1 697.8 284.1 696.6 277.6 696C271.1 695.4 269.4 696.5 261 695.5C252.6 694.5 239 691.2 227 689.8C215 688.3 195.3 687.3 189 686.8L189 686.8C185.3 685.8 174.6 682.4 166.6 681C158.6 679.6 149 680 141 678.5C133 677 126.5 673.8 118.6 672C110.7 670.2 99.4 669.4 93.4 667.9C87.4 666.4 85.2 664.1 82.5 663.2C79.8 662.3 78.8 662.6 77 662.6C75.2 662.6 73.3 663 71.5 663.4C69.7 663.8 68.1 664.8 66 665C63.9 665.2 61.9 665 59 664.7C56.1 664.4 50.4 663.5 48.7 663.3Z" fill="#FEF3A2"/>
<path d="M48.7 653.8C57.4 654.1 83.9 655 101 655.5C118.1 656 130.4 655.9 151.4 657C172.4 658.1 208.7 660.7 227 662C245.3 663.3 252.6 664.4 261 665C269.4 665.6 267.8 664.9 277.6 665.9C287.4 666.9 310.1 669.5 320 670.9C329.9 672.2 328.7 672.5 336.7 674C344.7 675.5 359.4 678.1 367.8 680C376.2 681.9 377.3 682.8 387 685.4C396.7 688 417.2 693.4 426 695.8C434.8 698.2 431 697.8 440 700C449 702.2 467.4 705.4 480 709C492.6 712.6 497.1 715.3 515.7 721.6C534.3 727.9 570.4 739.2 591.4 746.9C612.4 754.6 629.3 762.1 641.9 768C654.5 773.9 660.3 778.8 667 782C673.7 785.2 673.6 785.9 682 787C690.4 788.1 707.9 788.2 717.6 788.5C727.3 788.8 727.9 788.2 740 788.7C752.1 789.2 777.8 790.7 790.5 791.3C803.2 791.9 809.1 792.1 816 792.3C822.9 792.5 828.3 792.9 832 792.3C835.7 791.7 836.6 791.2 838.3 788.8C840 786.4 840.6 780.5 842.2 777.8C843.8 775 845.5 773.5 847.7 772.3C849.9 771.1 851.7 770.3 855.6 770.7C859.5 771.1 867.2 773.7 871.4 774.6C875.6 775.5 876.8 777 881 776C885.2 775 890.5 771 896.5 768.5C902.5 766 909.1 762.9 916.7 761C924.3 759.1 935.7 758.5 942 757C948.3 755.5 950.3 755.5 954.5 752C958.7 748.5 963.6 739.7 967 735.7C970.4 731.7 970.9 730.8 974.6 728C978.3 725.2 983.3 720.9 989 719C994.7 717.1 997.3 717.4 1008.6 716.5C1019.9 715.6 1045.7 715.1 1057 713.6C1068.3 712.1 1070.9 710.8 1076.6 707.5C1082.3 704.2 1086.6 699.1 1091 694C1095.4 688.9 1098.9 681.4 1103 677C1107.1 672.6 1107 670.4 1115.5 667.4C1124 664.4 1141.5 661.6 1154 659C1166.5 656.4 1179.5 654.3 1190.8 651.7C1202.1 649.1 1216.5 645 1221.6 643.6" fill="none" stroke="#2f3a2e" stroke-width="0.9" stroke-linecap="round" stroke-linejoin="round"/>
<path d="M48.7 663.3C50.4 663.5 56.1 664.4 59 664.7C61.9 665 63.9 665.2 66 665C68.1 664.8 69.7 663.8 71.5 663.4C73.3 663 75.2 662.6 77 662.6C78.8 662.6 79.8 662.3 82.5 663.2C85.2 664.1 87.4 666.4 93.4 667.9C99.4 669.4 110.7 670.2 118.6 672C126.5 673.8 133 677 141 678.5C149 680 158.6 679.6 166.6 681C174.6 682.4 185.3 685.8 189 686.8L189 686.8C195.3 687.3 215 688.3 227 689.8C239 691.2 252.6 694.5 261 695.5C269.4 696.5 271.1 695.4 277.6 696C284.1 696.6 293.1 697.8 300 699C306.9 700.2 310.7 701.7 319 703C327.3 704.3 339.8 705.5 350 706.8C360.2 708.1 370 709.2 380 710.8C390 712.4 400.5 714.6 410 716.5C419.5 718.4 427.6 720 436.8 722.2C446 724.5 455.5 727.2 465 730C474.5 732.8 484.4 736.1 493.6 738.7C502.8 741.3 510.5 743.2 520 745.5C529.5 747.8 538.5 750.1 550.4 752.5C562.3 754.9 579.8 757.5 591.4 760C603 762.5 607.4 762.9 620 767.6C632.6 772.4 650.7 780.8 667 788.5C683.3 796.2 705.4 807.9 717.6 813.8C729.8 819.7 732.9 821.1 740 824C747.1 826.9 751.6 827.7 760 831C768.4 834.3 779.2 839.5 790.5 844C801.8 848.5 817.9 855.5 828 858C838.1 860.5 847.2 858.8 851 859" fill="none" stroke="#2f3a2e" stroke-width="0.9" stroke-linecap="round" stroke-linejoin="round"/>
<path d="M847 831.6C848.9 833.3 854.6 839.2 858.6 841.7C862.6 844.2 867.3 845.9 871 846.7C874.7 847.5 877.6 848.4 881 846.7C884.4 845 888 840.9 891.4 836.7C894.8 832.5 898.8 825.3 901.5 821.5C904.2 817.7 906.6 815.2 907.6 814" fill="none" stroke="#2f3a2e" stroke-width="0.9" stroke-linecap="round" stroke-linejoin="round"/>
<path d="M908 809.5C908.8 809.5 911.2 808.7 913 809.2C914.8 809.7 916.9 811.9 918.9 812.6C920.9 813.3 923.2 813.6 925 813.6C926.8 813.6 928.4 813.7 929.5 812.5C930.6 811.3 931.2 807.6 931.5 806.6" fill="none" stroke="#2f3a2e" stroke-width="0.9" stroke-linecap="round" stroke-linejoin="round"/>
<path d="M931.5 806.6C932.8 806 936.4 804 939.1 803C941.8 802 945.3 800.9 947.8 800.4C950.3 799.9 952.9 799.9 953.9 799.8" fill="none" stroke="#2f3a2e" stroke-width="0.9" stroke-linecap="round" stroke-linejoin="round"/>
<path d="M953.6 791.4C956.7 791 968.1 788.5 972 788.7C975.9 788.9 974.9 790.8 977 792.5C979.1 794.2 979.7 797.4 984.8 798.8C989.9 800.2 1000 800.4 1007.5 801C1015 801.6 1024.1 801.8 1030 802.6C1035.9 803.4 1036.5 804.4 1042.8 806C1049.1 807.6 1063.8 811.4 1068 812.5" fill="none" stroke="#2f3a2e" stroke-width="0.9" stroke-linecap="round" stroke-linejoin="round"/>
<path d="M1047.4 789.4C1049.8 789.1 1055.6 789.3 1062 787.7C1068.4 786.1 1077.9 783.5 1086 780C1094.1 776.5 1104.1 772 1110.6 767C1117.1 762 1121 755.7 1125 750C1129 744.3 1130.1 738.2 1134.9 733C1139.7 727.8 1146.7 722.3 1154 718.5C1161.3 714.7 1170.4 712.8 1178.6 710C1186.8 707.2 1195.8 704.9 1203 701.5C1210.2 698.1 1218.5 691.8 1221.6 689.8" fill="none" stroke="#2f3a2e" stroke-width="0.9" stroke-linecap="round" stroke-linejoin="round"/>
<path d="M189 686.8C191.2 687.5 197.2 689.5 201.9 691C206.6 692.5 212 695 217 696C222 697 227.2 697 232 697.3C236.8 697.6 243.7 697.7 246 697.8" fill="none" stroke="#2f3a2e" stroke-width="0.9" stroke-linecap="round" stroke-linejoin="round"/>
<path d="M252 707C253.8 707.1 259.3 706.4 262.5 707.5C265.7 708.6 266.8 711.3 271 713.8C275.2 716.3 284.2 720.4 287.7 722.6C291.2 724.8 289.3 726 292 727C294.7 728 299.7 727.2 303.8 728.5C307.9 729.8 311.9 733.1 316.5 734.6C321.1 736.1 326.9 737.5 331.5 737.6C336.1 737.7 340.6 734.8 344 735C347.4 735.2 348.3 737 352 739C355.7 741 360.5 745.5 366 747C371.5 748.5 380.2 747.1 385 747.8C389.8 748.5 392.6 750.3 394.6 751C396.6 751.7 396.6 751.8 397 752" fill="none" stroke="#2f3a2e" stroke-width="0.9" stroke-linecap="round" stroke-linejoin="round"/>
<path d="M404 767.5C406.1 766.9 413.8 764 416.7 763.6C419.6 763.2 419.6 763.9 421.5 765C423.4 766.1 423.4 768.9 427.8 770C432.2 771.1 444.1 771 448 771.5C451.9 772 450.8 772.8 451.4 773" fill="none" stroke="#2f3a2e" stroke-width="0.9" stroke-linecap="round" stroke-linejoin="round"/>
<path d="M455.4 781.7C456.9 782.9 461.4 787.1 464.2 788.8C467 790.4 467.7 791.1 472 791.6C476.3 792.1 484.3 790.4 490 791.6C495.7 792.8 499.6 795.9 506 799C512.4 802.1 522.6 806.8 528.4 810.5C534.2 814.2 535.6 817.8 541 821C546.4 824.2 555.1 826.5 560.5 829.8C565.9 833.1 569.9 837.8 573.4 841C576.9 844.2 580.1 847.7 581.4 849" fill="none" stroke="#2f3a2e" stroke-width="0.9" stroke-linecap="round" stroke-linejoin="round"/>
<path d="M581.4 849C582.5 850.8 585.9 856 587.8 860C589.7 864 590.9 869.7 592.6 873C594.3 876.3 596.1 877.2 598 880C599.9 882.8 601.9 886.2 604 889.5C606.1 892.8 608.4 895.8 610.7 900C613 904.2 615.1 910.8 618 915C620.9 919.2 622.1 920.5 628 925C633.9 929.5 645.1 935.8 653.6 941.8C662.1 947.8 672.5 956.4 678.8 960.8C685.1 965.2 685.9 965.3 691.4 968C696.9 970.7 704.9 973.6 711.6 977C718.3 980.4 724.6 984.9 731.8 988.5C738.9 992.1 746.5 995.2 754.5 998.6C762.5 1002 771.3 1005.1 779.7 1008.7C788.1 1012.3 798.5 1017 805 1020C811.5 1023 816.6 1025.3 818.9 1026.4" fill="none" stroke="#2f3a2e" stroke-width="0.9" stroke-linecap="round" stroke-linejoin="round"/>
<path d="M822.6 1021.3C825.8 1021.3 835.8 1021.2 842 1021.3C848.2 1021.4 854.3 1021.6 860 1022C865.7 1022.4 870.7 1023.6 876 1023.4C881.3 1023.2 886.6 1021.3 892 1020.6C897.4 1019.9 902.8 1019.3 908.2 1019.1C913.6 1018.9 918.7 1019.4 924.2 1019.3C929.7 1019.2 938.4 1018.5 941.3 1018.3" fill="none" stroke="#2f3a2e" stroke-width="0.9" stroke-linecap="round" stroke-linejoin="round"/>
<path d="M581.4 849C584.8 850.3 595.6 854 601.5 856.7C607.4 859.5 610 861.3 616.7 865.5C623.4 869.7 633.7 877.1 641.9 882C650.1 886.9 657.8 890.1 666 895C674.2 899.9 684.6 906.8 691.4 911.5C698.2 916.2 700.3 919.2 706.6 923C712.9 926.8 721.3 929.6 729.3 934C737.3 938.4 746.1 944.9 754.5 949.4C762.9 953.9 771.3 957 779.7 960.8C788.1 964.6 798.7 968.9 805 972C811.3 975.1 813.4 977.4 817.6 979.7C821.8 982 822.9 984.3 830 986C837.1 987.7 848.7 988.4 860 990C871.3 991.6 887.1 994.6 897.9 995.8C908.7 997 920.5 996.8 925 997" fill="none" stroke="#2f3a2e" stroke-width="0.9" stroke-linecap="round" stroke-linejoin="round"/>
<path d="M455.4 779C456 779.2 457.5 778.8 459 780C460.5 781.2 462 784.9 464.2 786.4C466.4 787.9 467.7 788.4 472 788.8C476.3 789.2 484.3 787.6 490 788.8C495.7 790 499.6 793 506 796C512.4 799 522.6 803.7 528.4 807C534.2 810.3 535.6 813 541 816C546.4 819 555.1 822.2 560.5 825C565.9 827.8 569.9 830.3 573.4 833C576.9 835.7 577.5 838.7 581.4 841C585.2 843.3 590.6 844 596.5 846.6C602.4 849.2 609.1 852.1 616.7 856.7C624.3 861.3 634.5 870.1 641.9 874C649.3 877.9 652.8 876.5 661 880C669.2 883.5 683.8 890.4 691.4 895C699 899.6 700.7 904 706.6 907.8C712.5 911.6 721.3 915.4 726.7 917.9C732.1 920.4 734 920.6 739 922.9C744 925.2 749.8 928.8 757 931.7C764.2 934.7 774 937.7 782 940.6C790 943.5 799.1 946.9 805 949.4C810.9 951.9 812.1 953.8 817.6 955.7C823.1 957.6 830.7 959.8 837.8 961C844.9 962.2 852.1 962.2 860 963C867.9 963.8 877.5 965.2 885 966C892.5 966.8 901.9 967.7 905.3 968" fill="none" stroke="#2f3a2e" stroke-width="0.9" stroke-linecap="round" stroke-linejoin="round"/>
<path d="M271 713.8C275.6 714.8 287.4 717.5 298.8 719.5C310.2 721.5 327.4 723.1 339.4 725.7C351.4 728.3 361.3 731.8 371 735C380.7 738.2 391.2 742.4 397.8 744.7C404.4 747 405.7 747.4 410.4 748.6C415.1 749.8 420.7 750.4 426 751.8C431.3 753.2 436.7 754.8 442 757C447.3 759.2 452.4 762.6 457.7 765C462.9 767.4 468 769.3 473.5 771.5C479 773.7 481.4 774.2 490.5 778C499.6 781.8 516.7 788.7 528.4 794.4C540.1 800.1 552.5 807.5 560.5 812C568.5 816.5 570 817.7 576.6 821.7C583.2 825.7 593.3 832.1 600 836C606.7 839.9 609.7 841.2 616.7 845C623.7 848.8 633.5 854.2 641.9 858.5C650.3 862.8 658.8 866.9 667 870.5C675.2 874.1 683.1 876.3 691.4 880C699.7 883.7 708.3 888.6 716.7 892.6C725.1 896.6 733.6 900 742 904C750.4 908 758.6 913 767 916.6C775.4 920.2 784.3 922.7 792.4 925.4C800.5 928.1 809.8 931.8 815.7 933C821.6 934.2 823 931.8 828 932.5C833 933.2 838.8 936.1 846 937C853.2 937.9 864.3 937.3 871 937.6C877.7 937.9 883.8 938.8 886.4 939" fill="none" stroke="#2f3a2e" stroke-width="0.9" stroke-linecap="round" stroke-linejoin="round"/>
<path d="M319 703C323.7 704.7 338.6 710.4 347.3 713C356 715.6 364.2 717.7 371 718.6C377.8 719.5 385.4 718.6 388.3 718.6" fill="none" stroke="#2f3a2e" stroke-width="0.9" stroke-linecap="round" stroke-linejoin="round"/>
<path d="M391.5 722.6C394.1 724.2 403.4 730.7 407.3 732C411.2 733.3 411.9 729.7 415 730.5C418.1 731.3 421.5 734.7 426 736.8C430.5 738.9 435.4 740.6 442 743C448.6 745.4 457.7 748.5 465.6 751C473.5 753.5 483.6 756.2 489.3 758C495 759.8 492.1 758.3 500 762C507.9 765.7 526.3 775.3 536.4 780C546.5 784.7 553.1 786.9 560.5 790.4C567.9 793.9 574.4 798.2 581 801C587.6 803.8 589.9 804 600 807.3C610.1 810.6 626.6 815.1 641.9 821C657.2 826.9 677.3 836.8 692 842.8C706.7 848.8 722 853.5 730 856.7C738 859.9 734.2 859.4 740 861.9C745.8 864.4 754.5 868.6 765 872C775.5 875.4 790.3 880.2 803 882C815.7 883.8 831.7 883 841 883C850.3 883 855.7 882.2 858.6 882" fill="none" stroke="#2f3a2e" stroke-width="0.9" stroke-linecap="round" stroke-linejoin="round"/>
<path d="M886.5 936C887.3 935.8 887.2 935.1 891.4 934.5C895.6 933.9 905.9 933.5 911.7 932.3C917.5 931 921.7 928.9 926 927C930.3 925.1 933.6 922.1 937.7 920.7C941.8 919.3 948.5 918.9 950.7 918.5" fill="none" stroke="#2f3a2e" stroke-width="0.9" stroke-linecap="round" stroke-linejoin="round"/>
<path d="M861 888C862.7 888.3 866.2 890.6 871 889.7C875.8 888.8 884.4 884.1 890 882.5C895.6 880.9 899.7 881.5 904.5 880.3C909.3 879.1 915.3 876.5 918.9 875.2C922.5 873.9 924.9 872.8 926.1 872.3" fill="none" stroke="#2f3a2e" stroke-width="0.9" stroke-linecap="round" stroke-linejoin="round"/>
<path d="M245.8 698C250.4 706 263.3 729.2 273.6 746C283.9 762.8 301.9 790.2 307.6 799" fill="none" stroke="#111" stroke-width="2.0" stroke-linecap="round" stroke-linejoin="round"/>
<path d="M339 725.8C333.8 738 316.4 779.6 307.6 799C298.8 818.4 289.6 834.8 286 841.9" fill="none" stroke="#111" stroke-width="2.0" stroke-linecap="round" stroke-linejoin="round"/>
<path d="M388.4 718.5C390.5 725.3 398 749.2 401 759.5C404 769.8 402.4 766.3 406.4 780C410.4 793.7 417.5 819.6 425 841.9C432.5 864.2 447.1 901.8 451.5 913.8" fill="none" stroke="#111" stroke-width="2.0" stroke-linecap="round" stroke-linejoin="round"/>
<path d="M414.9 729L401 759.6" fill="none" stroke="#111" stroke-width="2.0" stroke-linecap="round" stroke-linejoin="round"/>
<path d="M451.5 768C452.1 771.8 453.1 781 455 791C456.9 801 459.4 815.2 462.6 828C465.8 840.8 472.1 861.3 474 868" fill="none" stroke="#111" stroke-width="2.0" stroke-linecap="round" stroke-linejoin="round"/>
<path d="M490 757C488 760.2 481.7 771.3 477.9 776C474.1 780.7 470.6 782.6 467 785C463.4 787.4 457.8 789.5 456 790.4" fill="none" stroke="#111" stroke-width="2.0" stroke-linecap="round" stroke-linejoin="round"/>
<path d="M507 789.6C505.2 794.7 501.8 806.9 496.3 820C490.8 833.1 481.6 852.3 474 868C466.4 883.7 458 900.8 451 914C444 927.2 439.8 934.8 432 947C424.2 959.2 408.7 980.3 404 987" fill="none" stroke="#111" stroke-width="2.0" stroke-linecap="round" stroke-linejoin="round"/>
<path d="M584.4 775.4C583.9 780.5 583.1 795 581.3 806C579.5 817 577.6 827.6 573.8 841.5C570 855.4 565.7 872.2 558.6 889.5C551.5 906.8 535.8 936 531.3 945.3" fill="none" stroke="#111" stroke-width="2.0" stroke-linecap="round" stroke-linejoin="round"/>
<path d="M673.4 810.7C671.1 816.7 664.9 834.7 659.6 846.6C654.4 858.5 648.4 870.6 641.9 882C635.4 893.4 628.4 905 620.8 915C613.1 925 600.1 937.3 596 941.8" fill="none" stroke="#111" stroke-width="2.0" stroke-linecap="round" stroke-linejoin="round"/>
<path d="M734 817C732.1 826.1 728 852 722.6 871.8C717.2 891.5 708.4 916 701.5 935.5C694.6 955 688.8 971.6 681 988.5C673.2 1005.4 659.3 1028.9 655 1037" fill="none" stroke="#111" stroke-width="2.0" stroke-linecap="round" stroke-linejoin="round"/>
<path d="M758.5 845C756.7 852 752.1 873.2 747.6 887C743.1 900.8 737.8 912.3 731.8 928C725.8 943.7 719.4 964.7 711.6 981C703.8 997.3 689.4 1018.4 685 1025.9" fill="none" stroke="#111" stroke-width="2.0" stroke-linecap="round" stroke-linejoin="round"/>
<path d="M785.4 835.4C783.7 844 780 869.9 775.3 887C770.6 904.1 763.9 920.2 757 938C750.1 955.8 742.8 976.7 734 993.6C725.2 1010.5 709.4 1031.8 704.5 1039.5" fill="none" stroke="#111" stroke-width="2.0" stroke-linecap="round" stroke-linejoin="round"/>
<path d="M810.7 911C811.9 920.5 815.4 950.7 817.6 968C819.8 985.3 822.9 1007.2 824 1015" fill="none" stroke="#111" stroke-width="2.0" stroke-linecap="round" stroke-linejoin="round"/>
<path d="M860.6 896C858.6 902.1 851.5 922.5 848.5 932.5C845.5 942.5 846.9 942 842.8 955.7C838.7 969.5 829.9 997 824 1015C818.1 1033 812.6 1049.8 807.5 1064C802.4 1078.2 795.9 1094 793.6 1100" fill="none" stroke="#111" stroke-width="2.0" stroke-linecap="round" stroke-linejoin="round"/>
<path d="M818.7 736C819.9 741.4 823.3 759.3 825.8 768.5C828.2 777.7 830.9 783.9 833.4 791C835.9 798.1 838.5 803.4 841 811C843.5 818.6 846 827 848.5 836.7C851 846.5 853.9 860.3 856 869.5C858.1 878.7 858.9 885.8 861 892C863.1 898.2 865.5 902.2 868.7 907C871.9 911.8 878.1 918.7 880 921" fill="none" stroke="#111" stroke-width="2.0" stroke-linecap="round" stroke-linejoin="round"/>
<path d="M870.7 845.5C871.2 851.4 872.5 869.2 873.9 881C875.3 892.8 876.7 905.9 879 916C881.3 926.1 883.5 933 887.8 941.5C892 950 898.3 957.5 904.5 966.7C910.7 976 918.5 988.5 925 997C931.5 1005.5 937.8 1011.2 943.5 1017.4C949.2 1023.6 953.5 1028.5 959.3 1034C965.1 1039.5 973.1 1046.3 978.5 1050.7C983.9 1055.1 985 1055.7 991.4 1060.4C997.8 1065.1 1008.1 1072.2 1017 1079C1025.9 1085.8 1040.3 1097.2 1045 1100.9" fill="none" stroke="#111" stroke-width="2.0" stroke-linecap="round" stroke-linejoin="round"/>
<path d="M906.6 801.6C907.4 805.5 909.5 817.3 911.5 825C913.5 832.7 915.3 838.2 918.9 847.8C922.5 857.4 928.5 871.9 933.3 882.5C938.1 893.1 943 902.5 947.8 911.4C952.6 920.3 957.4 928.4 962.2 935.9C967 943.4 972.1 950.3 976.7 956.1C981.3 961.9 984.3 964.8 989.7 970.8C995.1 976.8 1000.9 983.3 1008.9 992.3C1016.9 1001.2 1027.5 1013.4 1037.8 1024.5C1048.1 1035.6 1065.5 1053 1071 1058.7" fill="none" stroke="#111" stroke-width="2.0" stroke-linecap="round" stroke-linejoin="round"/>
<path d="M931.2 806.6C932.4 810 935.7 820.1 938.5 827C941.3 833.9 943.8 839.8 947.8 847.8C951.8 855.8 957.4 867 962.2 875.2C967 883.4 971.9 889.9 976.7 896.9C981.5 903.9 986.3 910.8 991.1 917.1C995.9 923.4 1000.8 929.2 1005.6 934.5C1010.4 939.8 1015.4 944.7 1020 949C1024.6 953.3 1025.2 953.5 1033 960.5C1040.8 967.5 1061.1 986.2 1066.7 991.3" fill="none" stroke="#111" stroke-width="2.0" stroke-linecap="round" stroke-linejoin="round"/>
<path d="M953.6 791.4C955 795.3 958.4 805.9 962.2 814.6C966.1 823.3 971.9 834.8 976.7 843.5C981.5 852.2 986.3 859.4 991.1 866.6C995.9 873.8 1000.8 880.6 1005.6 886.8C1010.4 893 1015.2 898.5 1020 904C1024.8 909.5 1028.7 914.4 1034.5 920C1040.3 925.6 1051.3 934.5 1054.7 937.4" fill="none" stroke="#111" stroke-width="2.0" stroke-linecap="round" stroke-linejoin="round"/>
<path d="M1009.3 753C1019.1 762.9 1053.5 797.9 1068 812.5C1082.5 827.1 1088.7 833.5 1096 840.8C1103.3 848.1 1106.7 851.8 1112.1 856.2C1117.5 860.6 1122.8 863.6 1128.2 867C1133.6 870.4 1141.8 874.9 1144.5 876.5" fill="none" stroke="#111" stroke-width="2.0" stroke-linecap="round" stroke-linejoin="round"/>
<path d="M1121.4 854L1098.3 831.8" stroke="#111" stroke-width="2" fill="none" stroke-linecap="butt"/>
<path d="M1098.3 831.8L1117.6 841.5L1112.5 842.6L1109.3 842.4Z" fill="#111"/>
<path d="M987.2 1047.2L961.8 1027.3" stroke="#111" stroke-width="2" fill="none" stroke-linecap="butt"/>
<path d="M961.8 1027.3L982 1035.2L976.9 1036.8L973.7 1036.6Z" fill="#111"/>
<circle cx="808" cy="751.8" r="7.1" fill="#fff" stroke="#111" stroke-width="1.9"/><circle cx="808" cy="751.8" r="2.3" fill="#111"/>
<circle cx="836.2" cy="751.8" r="7.1" fill="#fff" stroke="#111" stroke-width="1.9"/><path d="M831.9 751.8H840.5M836.2 747.5V756.1" stroke="#111" stroke-width="1.8"/>
<path d="M1012.5 1074.7H1058.4" stroke="#555" stroke-width="0.8"/>
</g>
<g id="axes" stroke="#1a1a1a" stroke-width="1.2" fill="none">
<path d="M38 42.4H48.5V536.4M38 141.1H48.5M38 239.9H48.5M38 338.7H48.5M38 437.5H48.5M38 536.4H48.5"/>
<path d="M1231.7 42.4H1221.5V536.4M1231.7 141.1H1221.5M1231.7 239.9H1221.5M1231.7 338.7H1221.5M1231.7 437.5H1221.5M1231.7 536.4H1221.5"/>
<path d="M38 614.3H48.5V1040.6M38 675.2H48.5M38 736.1H48.5M38 797H48.5M38 857.9H48.5M38 918.8H48.5M38 979.7H48.5M38 1040.6H48.5"/>
<path d="M1231.7 614.3H1221.5V1040.6M1231.7 675.2H1221.5M1231.7 736.1H1221.5M1231.7 797H1221.5M1231.7 857.9H1221.5M1231.7 918.8H1221.5M1231.7 979.7H1221.5M1231.7 1040.6H1221.5"/>
<path d="M69.5 525.8V536.5H611.5V525.8"/>
<path d="M69.5 1030.5V1040.5H315.5V1030.5"/>
</g>
<g id="labels" fill="#2b2b2b" font-family="'Liberation Sans', Arial, sans-serif">
<text x="34" y="47" font-size="14" text-anchor="end">0</text>
<text x="1235.6" y="47" font-size="14">0</text>
<text x="34" y="145.7" font-size="14" text-anchor="end">1</text>
<text x="1235.6" y="145.7" font-size="14">1</text>
<text x="34" y="244.5" font-size="14" text-anchor="end">2</text>
<text x="1235.6" y="244.5" font-size="14">2</text>
<text x="34" y="343.3" font-size="14" text-anchor="end">3</text>
<text x="1235.6" y="343.3" font-size="14">3</text>
<text x="34" y="442.1" font-size="14" text-anchor="end">4</text>
<text x="1235.6" y="442.1" font-size="14">4</text>
<text x="34" y="541" font-size="14" text-anchor="end">5</text>
<text x="1235.6" y="541" font-size="14">5</text>
<text x="34" y="618.9" font-size="14" text-anchor="end">0</text>
<text x="1235.6" y="618.9" font-size="14">0</text>
<text x="34" y="679.8" font-size="14" text-anchor="end">1</text>
<text x="1235.6" y="679.8" font-size="14">1</text>
<text x="34" y="740.7" font-size="14" text-anchor="end">2</text>
<text x="1235.6" y="740.7" font-size="14">2</text>
<text x="34" y="801.6" font-size="14" text-anchor="end">3</text>
<text x="1235.6" y="801.6" font-size="14">3</text>
<text x="34" y="862.5" font-size="14" text-anchor="end">4</text>
<text x="1235.6" y="862.5" font-size="14">4</text>
<text x="34" y="923.4" font-size="14" text-anchor="end">5</text>
<text x="1235.6" y="923.4" font-size="14">5</text>
<text x="34" y="984.3" font-size="14" text-anchor="end">6</text>
<text x="1235.6" y="984.3" font-size="14">6</text>
<text x="34" y="1045.2" font-size="14" text-anchor="end">7</text>
<text x="1235.6" y="1045.2" font-size="14">7</text>
<text x="-0.8" y="9.6" font-size="18.5" font-weight="bold">a</text>
<text x="-0.8" y="582" font-size="18.5" font-weight="bold">b</text>
<text x="38.2" y="27.5" font-size="22" font-weight="bold" textLength="21.4" lengthAdjust="spacingAndGlyphs">W</text>
<text x="1216.2" y="27.6" font-size="21.3" font-weight="bold" textLength="11.4" lengthAdjust="spacingAndGlyphs">E</text>
<text x="40.6" y="599.9" font-size="22" font-weight="bold" textLength="16" lengthAdjust="spacingAndGlyphs">N</text>
<text x="1214.4" y="600" font-size="21.3" font-weight="bold" textLength="14" lengthAdjust="spacingAndGlyphs">S</text>
<text transform="translate(13.3 287.5) rotate(-90)" font-size="14.6" text-anchor="middle" textLength="213" lengthAdjust="spacingAndGlyphs">Two-way travel time (seconds)</text>
<text transform="translate(13.3 825.5) rotate(-90)" font-size="14.6" text-anchor="middle" textLength="213" lengthAdjust="spacingAndGlyphs">Two-way travel time (seconds)</text>
<text transform="translate(1257 288.4) rotate(90)" font-size="14.6" text-anchor="middle" textLength="220" lengthAdjust="spacingAndGlyphs">Approximate depth (kilometres)</text>
<text transform="translate(1257 826.5) rotate(90)" font-size="14.6" text-anchor="middle" textLength="220" lengthAdjust="spacingAndGlyphs">Approximate depth (kilometres)</text>
<text x="66.2" y="519" font-size="14">0</text>
<text y="518.8" font-size="14.5"><tspan x="603.9" textLength="15.4" lengthAdjust="spacingAndGlyphs">10</tspan> <tspan x="623.1" textLength="74.2" lengthAdjust="spacingAndGlyphs">kilometres</tspan></text>
<text x="66.2" y="1023" font-size="14">0</text>
<text y="1023" font-size="14.5"><tspan x="309.7" textLength="15.4" lengthAdjust="spacingAndGlyphs">10</tspan> <tspan x="328.9" textLength="74.2" lengthAdjust="spacingAndGlyphs">kilometres</tspan></text>
<text x="696" y="706.5" font-size="16.8" textLength="172" lengthAdjust="spacingAndGlyphs">South Falkland Basin</text>
<text x="104.6" y="801.5" font-size="16.8" textLength="133.5" lengthAdjust="spacingAndGlyphs">Falkland Plateau</text>
<text x="78.2" y="821.7" font-size="16.8" textLength="188.6" lengthAdjust="spacingAndGlyphs">(South American Plate)</text>
<text x="1044" y="898.6" font-size="16.8" textLength="130" lengthAdjust="spacingAndGlyphs">Burdwood Bank</text>
<text x="1055.6" y="919.6" font-size="16.8" textLength="107.2" lengthAdjust="spacingAndGlyphs">(Scotia Plate)</text>
<text x="1063.2" y="1079.5" font-size="15.1" textLength="133.6" lengthAdjust="spacingAndGlyphs">Frontal thrust (with</text>
<text x="1057.9" y="1097.7" font-size="15.1" textLength="144.3" lengthAdjust="spacingAndGlyphs">sinistral component)</text>
<text x="1168.9" y="1054.5" font-size="9.5" textLength="52.2" lengthAdjust="spacingAndGlyphs">E1516001-8</text>
<rect x="69.4" y="1054.9" width="57.2" height="42.7" fill="#FEF3A2" stroke="#6f7068" stroke-width="1"/>
<rect x="69.4" y="1104.5" width="57.2" height="42.2" fill="#D6E6C6" stroke="#6f7068" stroke-width="1"/>
<rect x="69.4" y="1153.6" width="57.2" height="42.7" fill="#ECF2D9" stroke="#6f7068" stroke-width="1"/>
<rect x="69.4" y="1203.2" width="57.2" height="50" fill="#D9E6B0" stroke="#6f7068" stroke-width="1"/>
<rect x="663" y="1104" width="56.6" height="42" fill="#A5D8F5" stroke="#6f7068" stroke-width="1"/>
<rect x="663" y="1154" width="56.6" height="42" fill="#C6A3D2" stroke="#6f7068" stroke-width="1"/>
<rect x="663" y="1203.5" width="56.6" height="50" fill="#EBCCA5" stroke="#6f7068" stroke-width="1"/>
<text x="133.7" y="1080.5" font-size="14.6" textLength="62.9" lengthAdjust="spacingAndGlyphs">Cenozoic</text>
<text x="133.7" y="1129.8" font-size="14.6" textLength="293" lengthAdjust="spacingAndGlyphs">Cretaceous (Cenomanian – Maastrichtian)</text>
<text x="133.7" y="1178.9" font-size="14.6" textLength="262.3" lengthAdjust="spacingAndGlyphs">Cretaceous (Albian and Cenomanian)</text>
<text x="133.7" y="1228.5" font-size="14.6" textLength="236.5" lengthAdjust="spacingAndGlyphs">Cretaceous (Valanginian – Aptian)</text>
<text x="727.2" y="1129.5" font-size="14.6" textLength="314" lengthAdjust="spacingAndGlyphs">?Jurassic and lowest Cretaceous (Berriasian)</text>
<text x="727.2" y="1179" font-size="14.6" textLength="103.5" lengthAdjust="spacingAndGlyphs">Permo-Triassic</text>
<text x="727.2" y="1228.6" font-size="14.6" textLength="164" lengthAdjust="spacingAndGlyphs">?Devonian “basement”</text>
</g>
</svg>
</body>
</html>
